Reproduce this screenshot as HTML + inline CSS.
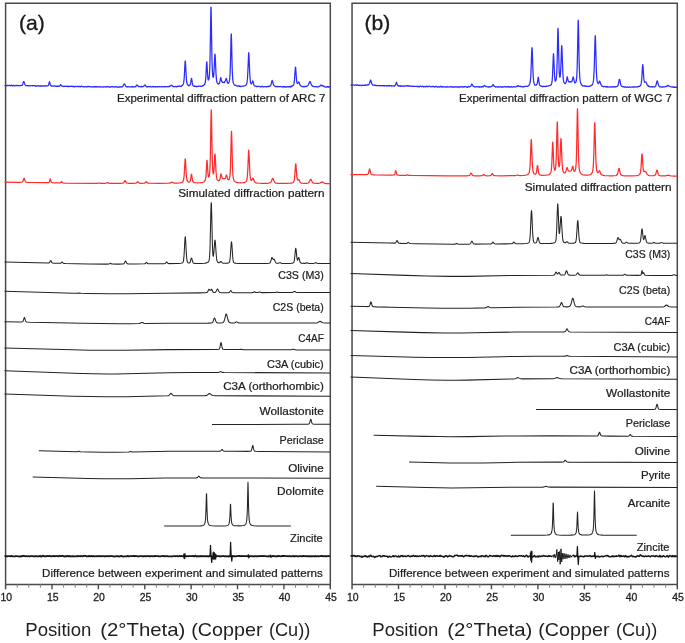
<!DOCTYPE html>
<html><head><meta charset="utf-8"><title>XRD patterns</title>
<style>html,body{margin:0;padding:0;background:#fff;overflow:hidden;}svg{display:block;will-change:transform;}text{font-family:"Liberation Sans",sans-serif;}</style></head>
<body>
<svg width="685" height="643" viewBox="0 0 685 643">
<rect width="685" height="643" fill="#fff"/>
<g font-family="Liberation Sans, sans-serif">
<path d="M5.6,589.1999999999999 L5.6,3.2 L330.3,3.2 L330.3,589.1999999999999" fill="none" stroke="#4a4a4a" stroke-width="1.5"/><path d="M5.6,584.4 L330.3,584.4" fill="none" stroke="#4a4a4a" stroke-width="1.5"/><path d="M17.20,584.4 L17.20,587.6999999999999" stroke="#808080" stroke-width="1.0"/><path d="M28.79,584.4 L28.79,587.6999999999999" stroke="#808080" stroke-width="1.0"/><path d="M40.39,584.4 L40.39,587.6999999999999" stroke="#808080" stroke-width="1.0"/><path d="M51.99,584.4 L51.99,589.1999999999999" stroke="#4a4a4a" stroke-width="1.4"/><path d="M63.58,584.4 L63.58,587.6999999999999" stroke="#808080" stroke-width="1.0"/><path d="M75.18,584.4 L75.18,587.6999999999999" stroke="#808080" stroke-width="1.0"/><path d="M86.77,584.4 L86.77,587.6999999999999" stroke="#808080" stroke-width="1.0"/><path d="M98.37,584.4 L98.37,589.1999999999999" stroke="#4a4a4a" stroke-width="1.4"/><path d="M109.97,584.4 L109.97,587.6999999999999" stroke="#808080" stroke-width="1.0"/><path d="M121.56,584.4 L121.56,587.6999999999999" stroke="#808080" stroke-width="1.0"/><path d="M133.16,584.4 L133.16,587.6999999999999" stroke="#808080" stroke-width="1.0"/><path d="M144.76,584.4 L144.76,589.1999999999999" stroke="#4a4a4a" stroke-width="1.4"/><path d="M156.35,584.4 L156.35,587.6999999999999" stroke="#808080" stroke-width="1.0"/><path d="M167.95,584.4 L167.95,587.6999999999999" stroke="#808080" stroke-width="1.0"/><path d="M179.55,584.4 L179.55,587.6999999999999" stroke="#808080" stroke-width="1.0"/><path d="M191.14,584.4 L191.14,589.1999999999999" stroke="#4a4a4a" stroke-width="1.4"/><path d="M202.74,584.4 L202.74,587.6999999999999" stroke="#808080" stroke-width="1.0"/><path d="M214.34,584.4 L214.34,587.6999999999999" stroke="#808080" stroke-width="1.0"/><path d="M225.93,584.4 L225.93,587.6999999999999" stroke="#808080" stroke-width="1.0"/><path d="M237.53,584.4 L237.53,589.1999999999999" stroke="#4a4a4a" stroke-width="1.4"/><path d="M249.12,584.4 L249.12,587.6999999999999" stroke="#808080" stroke-width="1.0"/><path d="M260.72,584.4 L260.72,587.6999999999999" stroke="#808080" stroke-width="1.0"/><path d="M272.32,584.4 L272.32,587.6999999999999" stroke="#808080" stroke-width="1.0"/><path d="M283.91,584.4 L283.91,589.1999999999999" stroke="#4a4a4a" stroke-width="1.4"/><path d="M295.51,584.4 L295.51,587.6999999999999" stroke="#808080" stroke-width="1.0"/><path d="M307.11,584.4 L307.11,587.6999999999999" stroke="#808080" stroke-width="1.0"/><path d="M318.70,584.4 L318.70,587.6999999999999" stroke="#808080" stroke-width="1.0"/><text x="6.30" y="601.2" font-size="10.7" text-anchor="middle" textLength="11.6" lengthAdjust="spacingAndGlyphs" fill="#222" stroke="#222" stroke-width="0.3">10</text><text x="52.69" y="601.2" font-size="10.7" text-anchor="middle" textLength="11.6" lengthAdjust="spacingAndGlyphs" fill="#222" stroke="#222" stroke-width="0.3">15</text><text x="99.07" y="601.2" font-size="10.7" text-anchor="middle" textLength="11.6" lengthAdjust="spacingAndGlyphs" fill="#222" stroke="#222" stroke-width="0.3">20</text><text x="145.46" y="601.2" font-size="10.7" text-anchor="middle" textLength="11.6" lengthAdjust="spacingAndGlyphs" fill="#222" stroke="#222" stroke-width="0.3">25</text><text x="191.84" y="601.2" font-size="10.7" text-anchor="middle" textLength="11.6" lengthAdjust="spacingAndGlyphs" fill="#222" stroke="#222" stroke-width="0.3">30</text><text x="238.23" y="601.2" font-size="10.7" text-anchor="middle" textLength="11.6" lengthAdjust="spacingAndGlyphs" fill="#222" stroke="#222" stroke-width="0.3">35</text><text x="284.61" y="601.2" font-size="10.7" text-anchor="middle" textLength="11.6" lengthAdjust="spacingAndGlyphs" fill="#222" stroke="#222" stroke-width="0.3">40</text><text x="331.00" y="601.2" font-size="10.7" text-anchor="middle" textLength="11.6" lengthAdjust="spacingAndGlyphs" fill="#222" stroke="#222" stroke-width="0.3">45</text>
<path d="M352.05,589.1999999999999 L352.05,3.2 L677.3,3.2 L677.3,589.1999999999999" fill="none" stroke="#4a4a4a" stroke-width="1.5"/><path d="M352.05,584.4 L677.3,584.4" fill="none" stroke="#4a4a4a" stroke-width="1.5"/><path d="M363.67,584.4 L363.67,587.6999999999999" stroke="#808080" stroke-width="1.0"/><path d="M375.28,584.4 L375.28,587.6999999999999" stroke="#808080" stroke-width="1.0"/><path d="M386.90,584.4 L386.90,587.6999999999999" stroke="#808080" stroke-width="1.0"/><path d="M398.51,584.4 L398.51,589.1999999999999" stroke="#4a4a4a" stroke-width="1.4"/><path d="M410.13,584.4 L410.13,587.6999999999999" stroke="#808080" stroke-width="1.0"/><path d="M421.75,584.4 L421.75,587.6999999999999" stroke="#808080" stroke-width="1.0"/><path d="M433.36,584.4 L433.36,587.6999999999999" stroke="#808080" stroke-width="1.0"/><path d="M444.98,584.4 L444.98,589.1999999999999" stroke="#4a4a4a" stroke-width="1.4"/><path d="M456.59,584.4 L456.59,587.6999999999999" stroke="#808080" stroke-width="1.0"/><path d="M468.21,584.4 L468.21,587.6999999999999" stroke="#808080" stroke-width="1.0"/><path d="M479.83,584.4 L479.83,587.6999999999999" stroke="#808080" stroke-width="1.0"/><path d="M491.44,584.4 L491.44,589.1999999999999" stroke="#4a4a4a" stroke-width="1.4"/><path d="M503.06,584.4 L503.06,587.6999999999999" stroke="#808080" stroke-width="1.0"/><path d="M514.67,584.4 L514.67,587.6999999999999" stroke="#808080" stroke-width="1.0"/><path d="M526.29,584.4 L526.29,587.6999999999999" stroke="#808080" stroke-width="1.0"/><path d="M537.91,584.4 L537.91,589.1999999999999" stroke="#4a4a4a" stroke-width="1.4"/><path d="M549.52,584.4 L549.52,587.6999999999999" stroke="#808080" stroke-width="1.0"/><path d="M561.14,584.4 L561.14,587.6999999999999" stroke="#808080" stroke-width="1.0"/><path d="M572.76,584.4 L572.76,587.6999999999999" stroke="#808080" stroke-width="1.0"/><path d="M584.37,584.4 L584.37,589.1999999999999" stroke="#4a4a4a" stroke-width="1.4"/><path d="M595.99,584.4 L595.99,587.6999999999999" stroke="#808080" stroke-width="1.0"/><path d="M607.60,584.4 L607.60,587.6999999999999" stroke="#808080" stroke-width="1.0"/><path d="M619.22,584.4 L619.22,587.6999999999999" stroke="#808080" stroke-width="1.0"/><path d="M630.84,584.4 L630.84,589.1999999999999" stroke="#4a4a4a" stroke-width="1.4"/><path d="M642.45,584.4 L642.45,587.6999999999999" stroke="#808080" stroke-width="1.0"/><path d="M654.07,584.4 L654.07,587.6999999999999" stroke="#808080" stroke-width="1.0"/><path d="M665.68,584.4 L665.68,587.6999999999999" stroke="#808080" stroke-width="1.0"/><text x="352.75" y="601.2" font-size="10.7" text-anchor="middle" textLength="11.6" lengthAdjust="spacingAndGlyphs" fill="#222" stroke="#222" stroke-width="0.3">10</text><text x="399.21" y="601.2" font-size="10.7" text-anchor="middle" textLength="11.6" lengthAdjust="spacingAndGlyphs" fill="#222" stroke="#222" stroke-width="0.3">15</text><text x="445.68" y="601.2" font-size="10.7" text-anchor="middle" textLength="11.6" lengthAdjust="spacingAndGlyphs" fill="#222" stroke="#222" stroke-width="0.3">20</text><text x="492.14" y="601.2" font-size="10.7" text-anchor="middle" textLength="11.6" lengthAdjust="spacingAndGlyphs" fill="#222" stroke="#222" stroke-width="0.3">25</text><text x="538.61" y="601.2" font-size="10.7" text-anchor="middle" textLength="11.6" lengthAdjust="spacingAndGlyphs" fill="#222" stroke="#222" stroke-width="0.3">30</text><text x="585.07" y="601.2" font-size="10.7" text-anchor="middle" textLength="11.6" lengthAdjust="spacingAndGlyphs" fill="#222" stroke="#222" stroke-width="0.3">35</text><text x="631.54" y="601.2" font-size="10.7" text-anchor="middle" textLength="11.6" lengthAdjust="spacingAndGlyphs" fill="#222" stroke="#222" stroke-width="0.3">40</text><text x="678.00" y="601.2" font-size="10.7" text-anchor="middle" textLength="11.6" lengthAdjust="spacingAndGlyphs" fill="#222" stroke="#222" stroke-width="0.3">45</text>
<path d="M4.50,85.61 5.70,85.34 6.30,85.61 6.50,85.50 7.10,85.52 7.30,85.34 7.70,85.46 7.90,85.62 8.10,85.43 8.30,85.58 8.50,85.57 8.90,85.71 9.30,85.60 9.70,85.17 9.90,85.40 10.10,85.40 10.30,85.55 10.50,85.56 10.70,85.44 10.90,85.56 11.10,85.27 11.30,85.37 11.50,85.21 11.90,85.77 12.10,85.85 12.30,85.80 12.50,85.62 12.70,85.70 13.30,85.19 13.50,85.30 13.70,85.67 13.90,85.87 14.30,85.76 14.70,85.81 14.90,85.66 15.30,85.59 15.50,85.44 15.90,85.52 16.10,85.76 16.70,85.39 17.10,85.73 17.30,85.66 17.50,85.39 17.70,85.32 18.10,85.38 18.30,85.61 18.90,85.72 19.10,85.88 19.90,85.65 20.10,85.45 20.30,85.43 20.70,85.70 21.30,85.27 21.50,85.28 21.90,85.46 22.10,85.41 22.50,84.76 22.90,83.70 23.30,82.18 23.50,81.75 23.70,81.55 23.90,81.65 24.10,81.92 24.70,83.94 24.90,84.37 25.10,84.73 25.30,84.89 25.50,85.33 25.70,85.41 25.90,85.71 26.50,85.51 26.90,85.78 27.50,85.57 27.70,85.66 27.90,85.59 28.10,85.76 28.50,85.77 28.70,85.67 29.90,85.94 30.10,85.93 30.70,85.65 30.90,85.73 31.30,85.55 32.10,85.55 32.30,85.61 32.50,85.84 32.90,85.73 33.10,85.57 33.90,85.72 34.10,85.61 34.30,85.69 34.50,85.55 34.90,85.75 35.30,86.20 35.50,85.99 35.90,85.92 36.10,86.16 36.50,85.93 36.70,86.02 37.30,85.91 37.70,86.00 37.90,85.80 38.10,85.79 38.30,85.66 38.90,86.02 39.10,85.92 39.50,85.92 39.70,86.06 40.30,85.83 40.50,86.00 40.70,85.96 40.90,86.12 41.10,86.10 41.50,85.66 41.70,85.72 42.10,86.11 42.70,86.02 43.10,85.80 43.30,85.89 43.50,85.79 43.70,86.04 43.90,85.94 44.10,86.13 44.30,85.92 44.50,85.92 44.70,85.77 44.90,85.80 45.10,85.67 45.70,86.14 46.10,85.97 46.30,85.78 47.10,85.95 47.70,85.67 48.10,85.63 48.50,85.34 48.90,84.03 49.30,82.02 49.50,81.72 49.70,82.14 50.30,84.69 50.70,85.47 51.10,85.88 51.50,86.13 52.10,85.92 52.30,85.96 52.50,85.85 52.90,85.99 53.10,86.25 53.30,86.03 53.50,86.16 53.70,86.04 53.90,86.15 54.10,85.91 54.50,85.95 55.30,86.27 55.90,86.01 56.50,86.41 56.70,86.19 56.90,86.11 57.30,86.35 57.90,86.10 58.10,86.21 58.30,86.18 58.50,86.35 59.10,86.17 59.50,86.15 59.70,85.98 59.90,85.56 60.10,85.51 60.50,85.00 60.70,84.59 60.90,84.69 61.30,85.62 61.50,85.91 61.90,85.89 62.50,86.34 62.70,86.39 62.90,86.27 63.30,86.24 63.50,86.51 63.90,86.62 64.10,86.40 64.30,86.44 64.70,86.19 64.90,86.19 65.30,86.43 65.70,86.46 66.30,86.04 66.50,86.05 66.70,86.32 66.90,86.42 67.10,86.45 67.30,86.27 67.50,86.52 67.70,86.54 67.90,86.53 68.10,86.30 68.50,86.52 68.90,86.24 69.30,86.37 69.70,86.38 70.10,86.60 70.90,86.29 71.30,86.23 71.50,86.40 71.70,86.24 71.90,86.37 72.10,86.32 72.30,86.63 72.70,86.43 72.90,86.20 73.10,86.20 73.50,86.39 73.90,86.78 74.10,86.68 74.30,86.85 74.70,86.94 74.90,86.48 75.10,86.30 75.90,86.32 76.10,86.47 76.70,86.67 77.30,86.46 77.50,86.45 77.90,86.59 78.10,86.38 78.30,86.39 78.50,86.30 79.10,86.79 79.30,86.67 79.50,86.37 80.10,86.78 80.70,86.69 81.10,86.24 81.30,86.13 81.50,86.22 81.90,86.67 82.50,86.74 82.90,86.64 83.10,86.42 83.30,86.60 83.50,86.63 83.70,86.83 84.10,86.98 84.50,86.87 84.70,86.64 84.90,86.69 85.30,86.62 85.50,86.70 85.70,86.63 85.90,86.85 86.10,86.68 86.50,86.91 86.70,86.87 87.10,86.51 87.50,86.78 87.90,86.71 88.10,86.49 88.30,86.48 88.50,86.31 88.70,86.60 89.10,86.62 89.50,86.50 90.10,86.68 90.30,86.62 90.90,86.92 91.70,86.81 91.90,86.92 92.30,86.76 92.50,86.81 92.70,87.05 93.10,87.00 93.30,86.76 93.50,86.91 93.70,86.91 93.90,87.04 94.10,86.71 94.50,86.43 94.70,86.68 95.30,86.78 95.50,87.03 96.10,86.59 96.30,86.86 96.50,86.85 96.90,86.61 97.50,87.04 97.90,86.81 98.10,86.78 98.30,86.91 98.50,86.91 98.90,86.85 99.10,86.73 99.50,86.96 99.70,86.96 99.90,86.92 100.10,86.72 100.30,86.93 100.70,87.05 100.90,87.05 101.50,86.74 102.10,86.87 102.30,86.83 102.70,87.01 102.90,87.02 103.10,86.82 103.30,86.79 103.70,87.07 104.10,86.80 104.30,86.96 104.70,86.92 104.90,86.75 105.30,86.85 105.50,86.76 106.10,87.08 106.30,86.97 106.50,86.69 106.90,86.46 107.10,86.78 107.50,86.95 107.70,86.68 107.90,86.60 108.30,86.67 108.50,86.93 108.90,86.94 109.10,86.81 109.50,87.21 110.10,86.92 110.50,87.01 110.90,86.74 111.30,86.71 111.50,86.96 111.90,86.96 112.30,86.75 112.70,86.95 113.30,86.65 113.70,86.95 114.30,87.02 114.50,86.90 114.70,86.92 114.90,86.77 115.10,86.74 115.50,86.92 115.90,86.68 116.10,86.66 116.30,86.94 116.50,86.98 116.70,86.93 116.90,86.70 117.10,86.99 117.30,87.05 117.50,87.26 117.70,87.09 118.10,87.10 118.70,86.93 118.90,87.08 119.50,86.81 119.70,86.99 119.90,87.05 120.50,86.70 120.70,86.93 121.10,87.16 121.50,86.83 121.70,86.79 122.10,86.92 122.90,86.20 123.70,84.56 123.90,84.39 124.10,84.01 124.50,83.82 124.90,84.35 125.50,85.96 125.70,86.29 126.10,86.72 126.30,86.70 126.50,86.90 126.70,86.77 126.90,86.87 127.10,86.71 127.30,86.81 127.50,86.69 128.70,86.96 128.90,86.84 129.70,86.87 129.90,86.69 130.10,86.89 130.30,86.84 130.50,86.95 131.10,87.00 131.30,86.79 131.50,86.75 131.70,86.56 132.50,87.04 133.10,86.60 133.50,86.86 133.70,86.89 135.50,86.77 135.70,86.45 135.90,86.46 136.50,85.08 137.10,85.18 137.30,85.10 137.90,86.03 138.30,86.11 138.90,86.70 139.10,86.70 139.30,86.53 139.70,86.48 139.90,86.66 140.30,86.74 140.50,86.64 141.10,86.83 141.30,86.45 141.50,86.41 141.70,86.52 141.90,86.90 142.50,86.54 142.70,86.66 143.10,86.57 143.30,86.35 143.50,86.40 143.70,86.15 143.90,86.10 144.70,85.16 144.90,84.83 145.30,85.01 146.10,86.45 146.70,86.53 147.10,87.02 147.30,87.02 147.70,86.63 147.90,86.53 148.10,86.73 148.50,86.67 148.70,86.36 149.10,86.68 149.30,86.74 149.50,86.70 149.90,86.85 150.10,86.78 150.50,86.35 150.70,86.54 150.90,86.59 151.10,86.88 151.50,86.90 151.70,86.75 151.90,86.74 152.30,86.89 152.50,86.67 152.70,86.74 153.30,86.43 153.50,86.55 153.70,86.96 153.90,86.98 154.10,86.81 154.70,86.96 154.90,86.66 155.10,86.56 155.30,86.72 155.70,86.83 155.90,86.65 156.10,86.82 156.30,86.81 156.50,86.92 156.70,86.80 156.90,86.87 157.10,86.73 157.70,86.97 158.10,86.55 158.70,86.74 159.10,86.61 159.70,86.84 159.90,86.79 160.30,86.86 160.50,86.76 161.10,86.74 161.30,86.49 161.70,86.50 162.50,86.87 162.90,86.82 163.30,86.61 163.70,86.74 164.50,86.76 164.70,86.54 165.10,86.63 165.30,86.78 165.90,86.56 166.30,86.68 166.70,86.62 167.30,86.65 167.70,86.73 167.90,86.87 168.30,86.68 168.50,86.48 168.70,86.55 168.90,86.35 169.10,86.40 169.30,86.27 169.50,86.50 169.70,86.49 169.90,86.35 170.30,85.86 170.70,85.78 171.30,85.25 171.70,85.32 172.10,85.69 172.30,86.02 172.50,86.14 172.90,86.19 173.30,86.47 173.50,86.77 173.90,86.59 174.30,86.74 175.10,86.70 175.50,86.42 175.90,86.40 176.10,86.66 176.50,86.90 176.90,86.61 177.10,86.56 177.30,86.68 177.70,86.36 177.90,86.06 178.50,86.46 178.70,86.32 179.10,86.21 179.50,86.21 179.70,86.40 179.90,86.44 180.10,86.38 180.30,86.16 180.90,86.32 181.10,86.22 181.30,86.26 181.70,85.83 181.90,85.42 182.10,85.47 182.50,85.30 183.10,84.54 183.50,83.48 183.70,82.42 184.10,79.03 184.30,76.35 185.10,61.54 185.30,60.97 185.50,63.03 186.10,74.42 186.50,80.29 186.90,83.04 187.30,84.24 188.70,85.85 188.90,85.79 189.30,85.35 189.90,85.14 190.10,84.95 190.50,83.77 191.30,78.95 191.50,78.42 191.70,78.72 192.30,82.90 192.70,84.92 193.10,85.75 193.30,85.94 193.70,86.03 193.90,85.87 194.10,85.88 194.50,86.26 194.90,86.21 195.90,86.57 196.10,86.38 196.50,86.34 197.10,86.61 197.50,86.50 197.70,86.29 198.30,86.39 198.90,86.08 199.30,86.20 199.70,86.17 200.30,86.46 200.90,86.02 201.10,86.06 201.30,86.28 201.70,86.48 201.90,86.34 202.50,85.58 202.90,85.89 203.10,85.79 204.70,84.28 205.10,83.32 205.30,82.45 205.70,78.87 205.90,75.97 206.50,64.02 206.70,61.82 206.90,62.40 207.50,73.36 207.90,78.15 208.10,79.32 208.30,80.00 208.50,79.87 208.70,79.59 209.10,78.23 209.30,76.70 209.70,70.30 210.10,55.90 210.90,7.23 211.10,7.25 211.90,55.36 212.10,63.68 212.30,69.54 212.70,75.42 212.90,76.77 213.10,77.36 213.30,77.33 213.50,76.71 213.70,75.41 214.10,69.98 214.70,56.82 214.90,54.14 215.10,54.31 215.30,57.46 215.90,71.57 216.10,75.09 216.50,79.82 216.70,81.25 217.10,82.55 217.50,83.45 217.70,83.48 217.90,83.71 218.10,83.69 218.30,84.12 218.70,83.91 218.90,83.71 219.10,83.72 219.30,83.58 219.70,82.44 220.10,80.71 220.50,78.33 220.70,77.65 220.90,77.76 221.50,80.54 221.70,81.13 222.30,82.34 222.50,82.43 222.90,82.39 223.30,82.58 223.70,82.30 223.90,82.28 224.30,82.61 224.70,81.94 224.90,81.31 225.10,81.28 225.50,80.51 226.10,78.43 226.30,78.48 226.50,78.92 227.10,81.56 227.50,82.64 227.90,83.30 228.30,83.37 228.50,83.15 229.10,82.03 229.30,81.43 229.70,78.99 230.10,73.27 230.50,61.34 231.10,35.55 231.30,33.94 231.50,38.96 232.10,65.10 232.30,71.24 232.70,78.70 233.10,81.83 233.50,83.48 234.30,84.67 234.90,85.18 235.10,85.45 235.50,85.35 235.70,85.16 235.90,85.36 236.10,85.39 236.70,85.96 236.90,85.88 237.50,86.13 237.70,86.07 237.90,86.14 238.10,86.00 238.30,86.20 238.50,85.87 238.70,85.97 238.90,85.76 239.10,86.13 239.30,86.06 239.50,86.35 239.70,86.14 239.90,86.47 240.10,86.35 240.30,86.50 240.50,86.35 240.90,86.60 241.10,86.35 241.30,86.25 241.90,86.19 242.10,86.04 242.30,86.20 242.50,86.13 242.90,86.19 243.10,86.05 243.30,86.10 243.50,85.96 244.10,86.14 244.70,85.60 245.30,85.52 245.50,85.39 246.10,84.86 246.50,84.13 246.90,82.96 247.10,82.01 247.50,78.03 247.90,70.53 248.50,55.41 248.70,52.74 248.90,53.47 249.10,57.40 249.50,68.32 249.90,76.53 250.30,81.07 250.50,82.19 250.70,83.02 250.90,83.40 251.30,83.92 251.50,83.92 252.30,82.03 252.50,81.27 252.70,80.90 252.90,81.00 253.10,81.59 253.70,84.19 254.10,85.25 254.30,85.69 254.50,85.93 254.90,85.99 255.10,86.20 255.30,86.13 255.50,86.22 255.70,86.17 255.90,86.30 256.10,86.22 256.50,86.60 256.70,86.68 256.90,86.68 257.10,86.46 257.50,86.55 257.90,86.43 259.30,86.42 259.50,86.67 259.70,86.60 259.90,86.70 260.10,86.65 260.30,86.89 260.70,86.91 260.90,86.85 261.10,86.58 261.50,86.29 261.90,86.64 262.30,86.58 262.50,86.37 262.70,86.39 263.10,86.69 263.30,86.99 263.70,86.87 263.90,86.55 264.50,86.74 264.70,86.62 265.10,86.71 265.50,86.61 265.90,86.78 266.50,86.66 266.90,86.84 267.30,86.71 267.50,86.49 267.70,86.64 267.90,86.50 268.10,86.61 268.30,86.37 268.50,86.51 268.70,86.54 269.10,86.35 269.30,86.07 269.50,86.30 269.90,86.13 270.10,85.80 270.50,85.83 270.70,85.69 271.30,83.68 271.90,80.99 272.10,80.41 272.30,80.43 272.50,80.93 273.30,84.28 273.50,84.85 274.10,85.76 274.50,86.06 274.70,86.04 274.90,86.18 275.30,86.63 276.10,86.37 276.70,86.68 277.10,86.42 277.50,86.61 277.70,86.80 277.90,86.75 278.10,86.82 278.30,86.67 278.70,86.58 278.90,86.67 279.50,86.68 280.70,86.51 281.10,86.66 281.30,86.50 281.70,86.73 281.90,86.98 282.70,86.59 282.90,86.91 283.10,86.85 283.30,87.00 283.50,86.65 283.90,86.48 284.30,86.85 284.50,86.92 284.70,86.68 284.90,86.73 285.10,86.62 285.30,86.94 285.70,87.17 285.90,87.11 286.10,86.81 286.30,86.97 286.50,86.89 286.70,87.10 286.90,86.78 287.10,86.74 287.30,86.53 287.70,86.59 288.10,86.86 288.30,86.90 288.50,86.88 288.70,86.75 288.90,86.88 289.10,86.79 289.30,86.89 289.50,86.50 289.90,86.37 290.50,87.03 290.70,86.88 291.10,86.18 291.50,86.60 291.70,86.59 292.30,85.61 292.50,85.50 292.70,85.50 292.90,85.67 293.10,85.51 293.70,84.65 293.90,83.93 294.30,81.46 294.50,79.55 295.30,67.99 295.50,67.08 295.70,68.17 296.50,79.55 296.70,81.23 297.10,83.19 297.30,83.50 297.50,83.58 297.70,83.20 298.30,82.57 298.70,81.90 298.90,81.99 300.10,85.31 300.90,85.82 301.10,86.05 301.30,86.08 301.50,86.36 301.70,86.36 302.10,86.58 302.50,86.53 302.70,86.43 303.10,86.66 303.50,86.55 303.70,86.61 303.90,86.90 304.30,86.79 304.70,86.42 304.90,86.40 305.30,86.56 305.70,86.28 305.90,86.48 306.10,86.46 306.30,86.60 306.50,86.36 306.70,86.39 307.10,86.02 307.70,85.81 308.30,85.07 309.70,81.79 310.10,81.63 310.30,81.67 310.50,82.12 310.90,83.43 311.70,85.37 312.50,85.87 313.10,86.53 313.30,86.64 313.70,86.47 314.10,86.72 314.50,86.70 314.70,86.54 315.10,86.72 315.30,86.53 315.50,86.54 315.70,86.41 316.30,86.52 316.50,86.77 316.70,86.62 316.90,86.82 317.10,86.79 317.30,86.88 317.50,86.81 317.90,86.94 318.10,86.89 318.30,86.61 318.50,86.65 318.70,86.46 318.90,86.63 320.10,86.03 320.70,85.14 320.90,85.20 321.10,85.56 321.30,85.63 321.50,85.56 321.70,85.23 322.10,85.55 322.30,85.58 322.70,85.79 322.90,86.11 323.10,85.96 323.30,85.93 323.70,86.13 323.90,86.39 324.10,86.44 324.30,86.67 324.90,86.81 325.30,86.77 325.50,87.02 325.90,87.25 326.30,86.86 326.70,86.79 326.90,86.95 327.50,86.52 327.70,86.68 327.90,87.13 328.10,87.29 328.70,86.71 328.90,86.78 329.30,86.66 329.90,86.97 330.30,86.95" fill="none" stroke="#2c2cff" stroke-width="1.25" stroke-linejoin="round" stroke-linecap="butt"/>
<path d="M4.50,182.19 18.10,182.33 20.50,182.28 21.70,182.14 22.10,182.02 22.50,181.78 22.90,181.25 23.30,180.27 23.90,178.33 24.10,178.10 24.30,178.33 24.90,180.29 25.30,181.29 25.50,181.60 25.90,181.98 26.30,182.16 27.10,182.32 30.10,182.50 44.50,182.73 47.10,182.71 48.30,182.59 48.90,182.36 49.30,181.86 49.50,181.37 50.10,179.11 50.30,178.93 51.10,181.66 51.50,182.31 51.90,182.56 52.50,182.71 54.90,182.86 58.50,182.92 60.10,182.82 60.70,182.52 61.30,181.72 61.50,181.60 61.70,181.73 62.30,182.54 62.70,182.80 63.30,182.93 64.90,183.02 94.90,183.34 97.30,183.29 99.10,183.00 100.90,183.32 103.70,183.36 105.70,183.27 107.50,182.70 108.90,183.19 110.10,183.35 114.90,183.40 120.50,183.34 122.30,183.23 122.90,183.10 123.30,182.93 123.90,182.33 124.70,180.86 124.90,180.63 125.10,180.63 125.30,180.85 126.10,182.32 126.70,182.91 127.50,183.18 128.90,183.29 133.30,183.32 135.70,183.21 136.50,182.93 137.50,181.88 137.70,181.80 137.90,181.88 138.90,182.91 139.50,183.15 141.30,183.26 143.90,183.20 144.50,183.10 144.90,182.93 145.30,182.62 146.10,181.72 146.30,181.72 146.50,181.88 147.10,182.61 147.70,183.02 148.30,183.17 149.30,183.23 159.10,183.25 168.90,183.15 169.90,183.07 170.50,182.93 171.90,182.21 172.30,182.27 173.50,182.90 174.30,183.04 177.10,183.05 179.90,182.86 181.30,182.57 182.30,182.10 182.70,181.76 183.10,181.19 183.50,180.12 183.90,177.86 184.10,175.96 185.10,159.50 185.30,158.83 185.50,160.71 186.10,171.76 186.50,176.91 186.90,179.60 187.10,180.35 187.50,181.21 188.10,181.79 188.90,182.06 189.30,182.04 189.70,181.87 190.10,181.36 190.50,180.10 191.30,174.80 191.50,174.25 191.70,174.82 192.50,180.24 192.90,181.57 193.10,181.93 193.50,182.32 194.10,182.59 194.90,182.75 197.50,182.87 200.90,182.70 202.10,182.53 203.10,182.28 204.10,181.80 204.50,181.47 204.90,180.97 205.30,180.08 205.70,178.17 206.10,174.07 206.90,160.43 207.10,160.30 207.90,172.79 208.30,176.16 208.50,176.86 208.70,177.09 208.90,176.96 209.10,176.52 209.30,175.73 209.50,174.45 209.90,169.24 210.30,157.22 211.10,112.24 211.30,109.80 211.50,116.52 211.90,141.32 212.30,160.51 212.50,166.29 212.90,172.30 213.10,173.51 213.30,173.93 213.50,173.66 213.70,172.67 214.10,168.17 214.70,156.56 214.90,154.04 215.10,154.20 215.30,157.04 215.90,169.77 216.30,175.30 216.50,176.98 216.90,178.93 217.30,179.85 217.90,180.46 218.30,180.61 218.90,180.57 219.30,180.32 219.70,179.70 220.10,178.36 220.90,173.92 221.10,173.80 221.90,177.33 222.10,177.91 222.50,178.47 222.90,178.61 224.50,178.64 224.90,178.55 225.10,178.41 225.50,177.76 226.30,175.18 226.50,175.00 226.70,175.37 227.50,178.64 227.90,179.53 228.30,179.84 228.70,179.75 229.10,179.31 229.50,178.34 229.90,176.19 230.10,174.16 230.50,166.42 231.30,134.56 231.50,131.25 231.70,134.61 232.50,166.71 232.90,174.60 233.30,178.09 233.70,179.70 234.10,180.60 234.50,181.18 234.90,181.58 235.50,181.99 236.70,182.44 238.50,182.73 240.90,182.84 243.10,182.72 244.30,182.50 245.30,182.09 245.90,181.62 246.50,180.73 246.90,179.52 247.10,178.48 247.50,174.79 247.90,167.75 248.50,152.69 248.70,150.12 248.90,151.00 249.90,173.24 250.10,175.79 250.50,178.75 250.90,180.00 251.10,180.28 251.30,180.40 251.50,180.39 251.90,179.98 252.70,178.23 252.90,178.01 253.10,178.07 253.30,178.44 254.10,180.83 254.50,181.69 254.90,182.22 255.50,182.64 256.30,182.88 257.30,183.04 260.90,183.25 266.70,183.26 268.30,183.18 269.50,183.00 270.30,182.67 270.90,182.08 271.50,180.96 272.30,178.83 272.50,178.44 272.70,178.26 272.90,178.32 273.10,178.62 273.90,180.73 274.50,181.95 275.10,182.63 275.50,182.87 276.10,183.06 277.50,183.26 279.50,183.36 286.90,183.39 290.50,183.21 291.70,183.01 292.50,182.76 293.30,182.23 293.70,181.71 294.10,180.67 294.30,179.77 294.70,176.67 295.50,165.36 295.70,163.82 295.90,164.33 296.90,177.18 297.30,179.43 297.50,179.91 297.70,180.09 297.90,180.07 298.50,179.52 298.70,179.48 298.90,179.64 300.10,182.07 300.50,182.55 300.90,182.83 301.50,183.05 302.10,183.17 304.30,183.32 306.70,183.27 307.50,183.17 308.10,183.00 308.70,182.62 309.10,182.17 309.50,181.49 310.30,179.73 310.50,179.41 310.70,179.26 310.90,179.31 311.10,179.56 311.90,181.30 312.50,182.32 313.10,182.88 313.90,183.19 316.10,183.41 318.70,183.33 319.90,183.00 321.50,182.03 322.10,181.91 322.50,182.04 324.10,183.04 325.10,183.36 326.70,183.53 330.30,183.63" fill="none" stroke="#ff2c2c" stroke-width="1.25" stroke-linejoin="round" stroke-linecap="butt"/>
<path d="M4.50,261.90 48.10,262.99 48.90,262.91 49.30,262.73 49.50,262.55 50.50,260.78 50.70,260.61 50.90,260.67 51.10,260.95 51.70,262.17 52.10,262.72 52.70,263.04 53.90,263.16 60.10,263.29 60.50,263.21 60.90,263.00 61.90,262.11 62.10,262.12 62.30,262.24 63.10,263.06 63.50,263.29 64.10,263.41 65.50,263.48 87.70,263.95 107.10,264.12 108.50,264.10 109.10,264.01 109.50,263.84 110.30,263.34 110.50,263.30 110.90,263.44 111.70,263.94 112.30,264.08 118.10,264.12 122.50,264.04 123.30,263.96 123.70,263.84 124.30,263.32 125.30,261.35 125.50,261.13 125.70,261.13 126.10,261.71 126.70,262.98 127.10,263.54 127.70,263.89 128.70,264.00 135.90,263.99 144.30,263.85 144.90,263.75 145.30,263.55 146.10,262.66 146.50,262.40 146.90,262.65 147.70,263.52 148.10,263.72 148.70,263.81 164.10,263.66 164.90,263.55 165.30,263.35 166.50,261.92 166.70,261.92 166.90,262.08 167.50,262.93 167.90,263.33 168.30,263.53 168.70,263.60 176.30,263.58 178.90,263.49 180.70,263.33 181.90,263.08 182.30,262.93 182.70,262.66 183.10,262.06 183.50,260.56 183.90,257.18 184.10,254.49 184.90,239.68 185.10,237.33 185.30,236.81 185.50,238.30 185.70,241.34 186.30,252.85 186.70,258.22 187.10,261.01 187.30,261.73 187.70,262.46 188.10,262.76 188.90,262.96 189.50,262.86 189.90,262.49 190.30,261.66 191.10,258.73 191.30,258.20 191.50,258.00 191.70,258.21 191.90,258.77 192.50,261.12 192.90,262.28 193.30,262.92 193.90,263.26 194.70,263.37 196.30,263.44 201.50,263.40 204.70,263.21 206.70,262.87 207.90,262.34 208.30,262.02 208.70,261.51 209.10,260.42 209.50,257.64 209.90,250.77 210.10,244.95 210.90,209.91 211.10,203.99 211.30,202.65 211.50,206.35 211.70,213.84 212.30,240.71 212.50,247.19 212.90,254.63 213.10,256.03 213.30,256.25 213.50,255.53 213.90,251.88 214.70,241.37 214.90,240.13 215.10,240.22 215.30,241.64 215.50,244.07 216.30,255.59 216.70,259.21 216.90,260.35 217.30,261.68 217.70,262.28 218.10,262.56 218.70,262.74 219.30,262.70 219.70,262.50 220.50,261.75 220.90,261.51 221.30,261.64 222.50,262.88 223.10,263.16 223.70,263.25 225.90,263.27 227.70,263.12 228.70,262.85 229.10,262.57 229.30,262.31 229.70,261.24 230.10,258.74 230.50,254.11 231.10,244.77 231.30,242.57 231.50,241.75 231.70,242.57 231.90,244.78 232.70,256.72 233.10,260.24 233.30,261.26 233.70,262.34 233.90,262.60 234.30,262.89 235.10,263.14 236.30,263.30 237.90,263.40 244.30,263.50 263.50,263.50 267.10,263.44 268.90,263.32 269.70,263.10 270.10,262.76 270.30,262.47 270.90,260.91 271.70,257.98 271.90,257.58 272.10,257.50 272.30,257.71 273.10,259.35 273.30,259.50 273.50,259.50 274.10,259.26 274.30,259.39 274.50,259.70 275.30,261.71 275.70,262.49 276.10,262.95 276.70,263.24 277.50,263.33 278.30,263.30 278.90,263.12 279.90,262.61 280.30,262.67 281.50,263.31 282.50,263.44 289.50,263.41 291.50,263.30 292.70,263.11 293.30,262.87 293.70,262.44 294.10,261.39 294.30,260.44 294.70,257.39 295.30,250.88 295.50,249.15 295.70,248.29 295.90,248.56 296.10,249.86 296.90,257.84 297.30,259.89 297.50,260.18 297.70,260.06 298.50,257.75 298.70,257.50 298.90,257.66 299.10,258.19 299.70,260.67 300.10,261.98 300.50,262.72 300.90,263.05 301.30,263.19 302.10,263.31 304.90,263.39 305.70,263.25 306.70,262.76 307.10,262.71 308.30,263.27 308.90,263.41 313.30,263.45 314.30,263.31 315.70,262.60 316.10,262.70 317.10,263.28 318.10,263.46 330.30,263.49" fill="none" stroke="#242424" stroke-width="1.05" stroke-linejoin="round" stroke-linecap="butt"/>
<path d="M4.50,291.30 73.70,293.21 77.10,293.25 79.10,293.00 81.10,293.35 86.30,293.49 109.90,293.80 127.90,293.74 165.10,293.17 199.70,292.89 205.50,292.77 206.70,292.60 207.30,292.22 207.70,291.68 208.70,289.57 208.90,289.35 209.10,289.30 209.30,289.44 209.90,290.25 210.10,290.41 210.30,290.45 210.70,290.13 211.30,289.36 211.50,289.30 211.70,289.43 211.90,289.73 212.70,291.44 213.10,292.04 213.70,292.45 214.50,292.55 215.10,292.44 215.70,292.03 216.30,291.09 217.10,289.36 217.30,289.09 217.50,289.00 217.70,289.10 217.90,289.37 218.90,291.49 219.50,292.25 219.90,292.49 220.30,292.60 221.70,292.70 226.70,292.72 228.70,292.61 229.10,292.46 229.50,292.14 230.30,290.97 230.70,290.61 230.90,290.65 231.10,290.83 231.90,292.01 232.30,292.39 232.90,292.62 234.30,292.70 252.10,292.64 253.10,292.48 254.10,291.92 254.50,291.80 254.90,291.92 255.90,292.46 256.90,292.60 258.10,292.50 259.10,292.09 259.50,292.00 259.90,292.09 260.90,292.50 262.10,292.62 274.70,292.57 275.70,292.44 276.90,292.01 277.30,292.05 278.50,292.48 279.30,292.56 291.30,292.52 292.30,292.46 292.90,292.31 294.10,291.53 294.50,291.40 294.90,291.53 296.10,292.30 296.70,292.44 297.50,292.49 330.30,292.40" fill="none" stroke="#242424" stroke-width="1.05" stroke-linejoin="round" stroke-linecap="butt"/>
<path d="M4.50,321.70 19.30,321.94 21.30,321.93 22.30,321.83 22.70,321.65 23.10,321.14 23.50,320.08 24.10,317.87 24.30,317.45 24.50,317.46 24.70,317.88 25.50,320.73 25.70,321.20 26.10,321.72 26.50,321.92 27.10,322.02 30.10,322.17 82.30,323.26 101.50,323.54 118.70,323.69 130.70,323.69 138.90,323.58 140.10,323.37 141.50,322.55 142.10,322.41 142.50,322.54 143.90,323.33 144.70,323.49 145.70,323.53 169.10,323.31 208.10,323.11 211.30,322.96 211.90,322.83 212.30,322.60 212.90,321.81 213.30,320.85 214.10,318.50 214.30,318.13 214.50,318.00 214.70,318.13 214.90,318.49 215.70,320.83 216.10,321.78 216.70,322.56 217.10,322.78 217.70,322.90 220.50,322.94 221.90,322.84 222.70,322.66 223.30,322.31 223.70,321.84 224.10,321.05 224.50,319.88 225.70,315.01 226.10,314.08 226.30,314.01 226.50,314.22 226.70,314.70 227.90,319.53 228.30,320.80 228.70,321.67 229.10,322.21 229.50,322.53 230.10,322.75 230.90,322.87 232.90,322.96 234.10,322.91 234.90,322.68 236.10,321.99 236.50,321.90 236.90,322.00 237.90,322.60 238.50,322.86 239.30,323.00 240.70,323.05 314.90,322.98 316.50,322.91 317.50,322.70 318.30,322.28 319.50,321.40 320.10,321.26 320.70,321.52 322.10,322.52 323.10,322.85 324.70,322.96 330.30,322.99" fill="none" stroke="#242424" stroke-width="1.05" stroke-linejoin="round" stroke-linecap="butt"/>
<path d="M4.50,348.10 72.30,349.83 89.90,350.16 105.70,350.34 124.90,350.28 168.70,349.62 216.50,349.48 218.50,349.35 218.90,349.24 219.30,348.95 219.70,348.18 219.90,347.49 220.70,343.22 220.90,342.59 221.10,342.59 221.30,343.22 222.10,347.49 222.50,348.66 222.70,348.96 223.10,349.25 224.30,349.45 228.10,349.55 238.50,349.59 239.50,349.54 240.70,349.30 242.10,349.56 243.30,349.61 289.70,349.83 291.50,349.75 292.90,349.26 293.30,349.20 294.90,349.74 296.30,349.85 330.30,350.00" fill="none" stroke="#242424" stroke-width="1.05" stroke-linejoin="round" stroke-linecap="butt"/>
<path d="M4.50,370.70 73.90,373.28 91.90,373.76 108.10,373.99 116.70,373.99 126.30,373.85 157.70,372.97 169.30,372.73 189.70,372.57 217.70,372.49 219.10,372.35 220.30,371.73 220.70,371.60 221.10,371.68 221.90,372.15 222.50,372.38 224.30,372.51 330.30,373.00" fill="none" stroke="#242424" stroke-width="1.05" stroke-linejoin="round" stroke-linecap="butt"/>
<path d="M4.50,394.10 72.70,396.20 90.50,396.60 106.30,396.79 115.90,396.79 126.50,396.67 167.30,395.77 168.30,395.65 168.90,395.43 169.50,394.93 170.70,393.42 170.90,393.31 171.10,393.31 171.50,393.61 172.50,394.91 173.10,395.40 173.90,395.65 175.30,395.72 199.50,395.69 205.30,395.61 206.30,395.47 207.10,395.17 207.70,394.77 208.90,393.72 209.50,393.50 210.10,393.73 211.50,394.93 212.30,395.36 213.30,395.58 214.90,395.66 330.30,396.25" fill="none" stroke="#242424" stroke-width="1.05" stroke-linejoin="round" stroke-linecap="butt"/>
<path d="M212.00,424.50 298.20,424.31 307.60,424.21 308.80,424.02 309.20,423.72 309.40,423.41 309.80,422.34 310.40,419.93 310.60,419.39 310.80,419.27 311.00,419.62 311.60,421.97 312.00,423.20 312.40,423.82 313.00,424.10 314.20,424.21 316.40,424.25 330.20,424.25" fill="none" stroke="#242424" stroke-width="1.05" stroke-linejoin="round" stroke-linecap="butt"/>
<path d="M38.90,450.65 76.70,451.66 77.70,451.63 78.70,451.26 79.10,451.21 80.10,451.65 80.70,451.74 89.10,451.96 103.30,452.17 115.50,452.19 128.70,452.01 129.50,451.91 130.30,451.57 130.70,451.51 131.70,451.86 132.70,451.93 156.90,451.44 168.90,451.27 218.90,451.20 219.90,451.14 220.50,450.93 220.90,450.60 221.50,449.86 221.90,449.52 222.10,449.52 222.30,449.65 223.10,450.61 223.50,450.94 223.90,451.11 224.50,451.20 233.30,451.31 248.70,451.35 250.50,451.21 250.90,451.05 251.30,450.59 251.70,449.52 252.50,445.93 252.70,445.52 252.90,445.66 253.10,446.31 253.70,449.14 254.10,450.41 254.30,450.77 254.70,451.13 255.70,451.34 258.50,451.45 265.90,451.53 330.30,452.00" fill="none" stroke="#242424" stroke-width="1.05" stroke-linejoin="round" stroke-linecap="butt"/>
<path d="M32.70,477.00 87.90,478.52 103.70,478.77 117.30,478.80 130.50,478.65 164.70,478.06 196.10,477.87 196.90,477.80 197.50,477.52 198.50,476.23 198.70,476.11 198.90,476.15 199.10,476.34 199.70,477.21 200.30,477.70 200.90,477.83 202.10,477.88 330.30,478.25" fill="none" stroke="#242424" stroke-width="1.05" stroke-linejoin="round" stroke-linecap="butt"/>
<path d="M164.20,526.09 189.20,526.07 198.00,525.98 200.40,525.87 202.00,525.68 203.00,525.42 203.80,524.99 204.20,524.59 204.60,523.94 205.00,522.77 205.40,520.39 205.60,518.24 206.00,509.38 206.40,493.72 206.60,493.72 207.00,509.38 207.40,518.24 207.60,520.39 208.00,522.76 208.40,523.93 208.80,524.58 209.20,524.98 209.80,525.34 210.40,525.54 212.20,525.82 215.40,525.96 220.60,525.99 224.20,525.91 226.20,525.76 227.60,525.41 228.00,525.19 228.40,524.85 228.80,524.27 229.20,523.16 229.60,520.75 230.00,514.77 230.40,504.19 230.60,504.19 231.00,514.77 231.40,520.75 231.80,523.15 232.00,523.80 232.40,524.59 233.00,525.18 233.60,525.47 234.60,525.70 236.20,525.84 239.20,525.88 241.80,525.77 243.40,525.56 244.60,525.15 245.20,524.73 245.60,524.27 246.00,523.53 246.20,522.98 246.60,521.18 247.00,517.41 247.40,508.26 247.80,488.34 248.00,482.20 248.20,488.34 248.60,508.27 249.00,517.42 249.20,519.68 249.60,522.23 249.80,522.98 250.20,523.96 250.80,524.75 251.60,525.27 252.60,525.58 254.20,525.81 256.60,525.94 265.60,526.06 290.80,526.09" fill="none" stroke="#242424" stroke-width="1.05" stroke-linejoin="round" stroke-linecap="butt"/>
<path d="M350.50,85.30 350.70,85.27 351.10,84.99 351.30,85.10 351.50,84.94 351.70,85.03 351.90,84.97 352.10,85.22 352.50,85.32 352.70,85.19 353.50,85.01 353.70,84.84 353.90,84.86 354.10,85.07 354.30,85.08 354.50,85.30 354.90,85.27 355.10,85.04 355.30,85.05 355.90,84.68 356.30,85.19 356.50,85.29 356.70,85.21 356.90,84.97 357.10,84.94 357.30,84.79 357.50,85.10 357.70,85.13 357.90,85.30 358.70,85.33 359.10,85.09 359.30,85.10 359.70,85.54 360.30,85.27 360.50,85.33 360.70,85.21 360.90,85.27 361.50,85.71 361.70,85.44 362.10,85.14 362.70,85.44 362.90,85.33 363.10,85.49 363.30,85.48 363.90,85.23 364.10,85.45 364.30,85.33 364.50,85.39 364.70,85.34 365.10,84.90 365.30,84.85 365.70,85.40 365.90,85.40 366.50,85.09 366.70,85.19 366.90,85.09 367.10,85.18 367.50,84.95 367.70,84.66 367.90,84.98 368.10,84.94 368.30,85.00 368.50,84.58 369.10,84.23 369.50,83.52 370.30,80.70 370.70,79.99 371.10,81.18 371.30,82.29 371.90,83.67 372.10,84.33 372.70,84.99 372.90,85.16 373.10,85.19 373.90,85.22 374.10,85.09 374.30,85.25 374.50,85.17 374.70,85.37 374.90,85.13 375.10,85.29 375.30,85.22 375.50,85.36 375.90,85.29 376.10,85.34 376.50,85.74 376.70,85.73 376.90,85.50 377.10,85.46 377.70,85.66 377.90,85.62 378.10,85.72 378.30,85.59 378.70,85.54 379.10,85.73 379.50,85.50 379.90,85.39 380.50,85.81 380.70,85.64 381.10,85.67 381.30,85.93 382.10,85.58 382.30,85.68 382.50,85.59 382.70,85.63 383.30,85.88 383.90,85.46 384.10,85.57 384.50,86.06 385.10,85.62 385.30,85.72 385.90,85.75 386.10,85.67 386.50,85.88 386.70,86.11 386.90,86.02 387.30,85.63 387.50,85.60 387.70,85.81 387.90,85.76 388.10,85.86 388.30,85.62 388.70,85.69 388.90,85.98 389.30,85.97 389.50,85.61 389.90,85.45 390.50,85.92 390.70,85.81 390.90,85.82 391.10,85.65 391.30,86.00 391.50,85.98 391.70,86.10 391.90,85.90 392.50,85.80 392.90,85.90 393.10,86.04 393.30,85.95 393.50,85.99 393.70,85.83 393.90,86.18 394.10,86.02 394.30,86.03 394.50,85.74 394.70,85.89 394.90,85.79 395.70,84.35 396.50,82.23 396.70,82.54 397.10,84.34 397.30,84.91 397.90,85.75 398.30,86.07 398.70,86.21 399.10,85.68 399.30,85.69 399.50,85.92 399.70,85.83 399.90,86.12 400.30,86.42 400.70,85.75 400.90,85.88 401.10,86.20 401.30,86.30 401.50,86.24 401.70,85.92 401.90,85.90 402.30,86.18 402.90,86.12 403.10,85.98 403.30,86.00 403.50,85.88 403.70,86.14 403.90,86.02 404.10,86.22 404.30,86.01 404.50,86.14 404.70,86.07 404.90,86.20 405.50,85.86 405.90,85.91 406.30,85.72 406.50,85.86 406.70,85.86 407.10,86.12 407.50,85.92 407.70,85.61 407.90,85.58 408.10,85.61 408.50,86.05 409.10,85.80 409.50,86.22 409.70,86.21 409.90,86.37 410.10,86.20 410.90,86.23 411.10,86.05 411.30,86.05 411.70,86.31 411.90,86.29 412.10,86.11 412.30,86.31 412.70,86.40 412.90,86.20 413.10,86.19 413.50,86.29 413.70,86.47 414.10,86.54 414.70,86.30 415.30,86.40 415.90,86.25 416.30,86.24 417.10,86.69 417.30,86.67 417.70,86.25 417.90,86.29 418.30,86.68 418.50,86.52 418.90,86.49 419.10,86.86 419.50,86.69 419.70,86.30 420.10,86.10 420.30,86.15 420.70,86.11 421.10,86.34 421.30,86.57 421.90,86.68 422.50,86.18 423.10,86.41 423.50,86.84 423.70,86.90 424.10,86.52 424.30,86.48 424.50,86.56 424.70,86.51 424.90,86.57 425.10,86.49 425.70,86.96 425.90,86.84 426.30,86.24 427.30,86.28 427.70,86.75 427.90,86.82 428.10,86.79 428.30,86.44 428.50,86.49 428.70,86.39 428.90,86.44 429.10,86.24 429.30,86.47 429.50,86.42 429.70,86.49 429.90,86.34 430.30,86.69 430.50,86.70 430.70,86.58 431.10,86.65 431.30,86.59 431.50,86.68 431.70,86.63 431.90,86.87 432.10,86.57 432.50,86.34 432.70,86.42 432.90,86.64 433.10,86.54 433.30,86.63 433.50,86.43 433.70,86.65 434.10,86.71 434.30,86.88 434.50,86.86 434.70,87.02 434.90,86.67 435.30,86.57 435.50,86.72 435.70,86.70 435.90,86.61 436.10,86.29 436.50,86.27 437.10,87.02 437.30,87.10 437.50,87.12 437.70,86.96 438.10,86.94 438.70,86.73 439.30,87.19 439.50,86.88 439.90,86.71 440.10,86.90 440.70,86.25 440.90,86.35 441.30,87.01 441.70,86.73 441.90,86.68 442.10,86.82 442.70,86.58 443.30,87.04 443.50,86.87 443.70,86.94 443.90,86.83 444.10,86.96 444.90,86.92 445.50,87.12 445.70,87.11 445.90,86.99 446.10,87.11 446.30,87.06 446.50,87.14 446.70,86.82 447.10,86.50 447.30,86.58 447.50,86.85 448.30,87.16 449.10,86.79 449.30,86.92 449.50,86.82 449.70,86.90 450.10,86.70 450.30,86.78 450.50,86.72 450.70,86.96 451.10,86.74 451.50,86.78 451.70,87.04 451.90,87.07 452.10,86.89 452.50,86.93 452.70,87.18 453.50,86.86 453.70,87.22 454.10,87.07 454.30,86.75 454.70,86.98 454.90,86.77 455.10,86.77 455.50,87.06 456.10,86.79 456.50,86.86 456.70,87.03 456.90,86.94 457.10,87.07 457.30,87.03 457.50,86.82 457.90,86.75 458.10,87.05 458.30,86.99 458.50,87.18 459.10,86.67 459.50,86.92 460.10,87.03 460.30,87.18 460.90,86.72 461.10,86.67 461.30,86.85 461.50,86.86 461.90,86.62 462.50,86.74 462.90,87.09 463.10,87.07 463.30,86.88 463.70,87.16 463.90,87.15 464.30,86.62 464.50,86.59 464.70,86.71 464.90,86.72 465.10,86.62 465.90,86.52 466.30,86.99 466.70,87.19 466.90,87.25 467.10,87.11 467.70,87.35 468.30,86.60 468.50,86.63 468.70,86.33 469.50,86.98 469.90,86.77 470.10,86.48 470.30,86.40 470.90,85.90 471.10,85.56 471.50,84.36 471.70,84.12 472.10,84.28 472.50,85.06 472.70,85.20 473.10,85.91 473.30,86.46 473.50,86.44 473.90,86.62 474.50,86.68 474.70,87.00 474.90,87.02 475.10,87.01 475.30,86.88 475.90,86.99 476.70,86.56 477.10,86.71 477.70,86.69 478.10,86.92 478.30,86.73 478.70,86.65 479.10,87.08 479.50,86.82 479.70,86.87 479.90,87.11 480.30,86.83 480.50,86.97 480.90,87.04 481.10,86.74 481.50,86.62 481.90,87.02 482.10,86.96 482.70,86.41 482.90,86.46 483.30,86.88 484.50,85.35 484.70,85.48 484.90,85.87 485.10,86.05 485.50,86.23 485.70,86.48 485.90,86.52 486.30,86.36 486.90,86.88 487.10,86.94 487.30,86.93 487.50,86.76 488.10,87.05 488.30,86.88 488.70,87.07 488.90,87.05 489.10,86.67 489.30,86.54 489.70,86.85 489.90,86.85 490.10,86.67 490.50,86.92 491.10,86.48 491.30,86.48 491.50,86.29 492.10,86.05 492.30,85.78 492.90,84.54 493.10,84.56 493.30,84.78 493.90,85.86 494.30,86.40 494.50,86.17 494.70,86.25 495.10,86.86 495.30,87.01 495.70,86.92 495.90,86.66 496.50,86.87 496.90,86.77 497.30,87.02 497.50,86.90 497.70,87.03 497.90,86.76 498.10,86.80 498.30,86.59 498.90,86.85 499.10,86.86 499.30,87.14 499.50,87.13 499.70,87.10 499.90,86.92 500.30,86.95 500.70,86.66 500.90,86.69 501.30,87.02 501.90,86.87 502.30,86.99 502.70,87.25 503.10,86.98 503.30,86.75 503.50,86.87 503.90,86.78 504.10,86.64 504.30,86.70 504.70,86.52 504.90,86.59 505.30,86.96 505.50,86.70 505.90,86.95 506.10,87.18 506.30,86.91 506.50,86.87 506.90,86.99 507.30,86.74 507.50,86.83 507.90,86.85 508.30,86.50 508.50,86.62 508.90,87.17 509.10,87.22 509.30,87.01 509.70,86.81 509.90,86.85 510.10,87.02 510.30,86.84 510.50,86.80 510.70,86.60 511.10,86.80 511.30,86.63 511.50,86.81 511.70,86.82 511.90,87.05 512.10,87.07 512.30,87.21 512.70,87.13 512.90,86.93 513.10,86.96 513.50,86.72 513.90,86.72 514.10,86.88 514.30,86.89 514.90,86.75 515.70,86.84 515.90,86.51 516.10,86.53 516.30,86.32 516.70,86.44 516.90,86.67 517.10,86.56 517.50,85.89 517.70,85.78 517.90,85.87 518.10,85.70 518.50,86.13 518.70,86.24 519.10,86.05 519.30,86.35 519.50,86.30 519.70,86.45 519.90,86.39 520.30,86.60 520.90,86.25 521.10,86.52 521.30,86.62 522.10,86.59 522.30,86.51 522.50,86.59 522.70,86.91 523.10,86.82 523.30,86.52 524.10,86.87 524.50,86.49 524.70,86.43 525.30,86.46 525.50,86.35 525.90,86.29 526.30,86.48 526.50,86.28 526.70,86.32 526.90,86.13 527.10,86.30 527.30,86.25 527.50,86.31 527.70,86.25 528.50,85.68 528.70,85.71 528.90,85.39 529.10,85.25 529.90,83.24 530.30,81.22 530.70,77.19 530.90,74.04 531.70,51.76 531.90,47.84 532.10,47.74 532.30,51.56 532.90,69.61 533.30,77.50 533.70,81.56 533.90,82.60 534.30,83.90 534.70,84.83 534.90,85.03 535.50,85.18 535.90,85.00 536.30,85.25 536.50,84.97 537.10,83.82 537.30,83.17 537.70,80.72 538.10,77.49 538.30,77.21 538.50,78.17 539.30,83.86 539.70,85.06 540.10,85.74 540.30,85.90 540.50,85.87 541.10,86.22 541.50,86.05 542.10,86.47 542.30,86.73 542.70,86.50 543.10,86.08 543.30,86.38 543.50,86.40 543.70,86.69 544.10,86.41 544.50,86.26 544.90,86.33 545.10,86.28 545.30,86.49 545.50,86.34 545.70,86.53 545.90,86.30 546.30,86.21 546.70,86.35 547.10,86.19 547.90,86.24 548.30,86.02 548.50,85.80 548.70,85.81 548.90,85.68 549.10,85.66 549.50,85.74 549.70,85.53 550.30,85.49 550.70,84.83 551.10,84.81 551.30,84.60 551.70,83.22 552.10,81.23 552.50,76.12 553.30,56.01 553.50,53.74 553.70,55.68 554.50,74.75 554.90,79.38 555.10,80.60 555.30,81.04 555.50,81.18 555.90,80.25 556.30,78.58 556.70,74.25 556.90,70.06 557.30,55.65 557.70,35.37 557.90,28.52 558.10,28.45 559.10,69.13 559.30,73.13 559.70,76.75 559.90,77.27 560.10,76.88 560.50,73.31 560.90,65.69 561.50,48.71 561.70,45.55 561.90,46.49 562.50,64.31 562.90,73.70 563.30,78.79 563.70,81.70 564.10,82.52 564.30,82.58 564.70,83.41 565.10,83.64 565.30,83.43 565.50,83.36 565.90,82.77 566.50,81.07 567.10,77.00 567.30,76.80 568.30,81.20 568.70,81.93 568.90,81.91 569.30,81.59 569.90,81.95 570.10,81.72 570.50,81.82 570.90,81.72 571.30,81.96 571.50,81.97 571.70,81.66 571.90,81.59 572.10,81.07 573.10,76.95 573.30,77.00 573.50,77.60 574.10,80.62 574.50,82.05 574.90,83.00 575.10,82.97 575.90,82.08 576.30,80.61 576.70,77.21 576.90,74.33 577.30,63.62 578.10,22.39 578.30,20.04 578.50,26.34 579.10,59.66 579.30,67.62 579.70,76.69 580.10,80.54 580.30,81.70 580.70,83.20 580.90,83.40 581.50,84.77 581.90,85.06 582.30,85.64 582.70,85.88 582.90,85.75 583.10,85.87 583.90,85.82 584.10,86.07 584.50,85.91 584.70,85.74 585.30,86.28 585.50,86.22 585.70,86.29 585.90,86.21 586.50,86.35 586.70,86.20 586.90,86.17 587.10,86.19 587.50,86.39 587.70,86.33 587.90,86.42 588.10,86.30 588.30,86.61 588.50,86.35 588.70,86.34 588.90,86.09 589.10,86.36 589.50,86.14 590.10,86.13 590.30,85.93 590.50,85.94 591.10,85.43 591.50,85.49 591.90,85.25 592.30,84.73 592.70,83.90 593.10,82.41 593.50,80.41 593.70,78.40 594.10,71.47 595.10,37.14 595.30,35.71 595.50,39.77 596.30,69.19 596.50,73.84 596.90,79.32 597.30,81.87 597.70,83.01 598.10,83.35 598.30,83.34 598.50,83.51 598.70,83.05 598.90,82.81 599.10,81.88 599.50,81.06 599.90,81.42 600.10,81.89 600.70,84.03 600.90,84.42 601.10,84.53 601.70,85.78 601.90,86.03 602.10,85.93 602.30,86.17 603.30,86.83 603.50,86.60 603.70,86.51 603.90,86.49 604.10,86.58 604.30,86.40 604.50,86.36 604.90,86.64 605.10,86.62 605.90,86.83 606.50,86.61 606.70,86.77 606.90,87.20 607.30,86.87 607.50,86.52 607.70,86.77 607.90,86.74 608.30,86.92 608.70,86.93 609.10,87.16 609.30,87.01 609.50,87.06 609.70,86.91 609.90,87.10 610.10,86.86 610.30,86.88 610.50,86.79 610.70,86.89 611.30,86.69 611.50,86.77 611.70,86.69 611.90,86.83 612.10,86.76 612.30,87.03 612.70,87.19 612.90,87.17 613.30,86.88 613.50,86.63 614.10,86.60 614.30,86.64 614.70,87.10 614.90,87.17 615.50,86.68 615.90,86.61 616.50,86.67 616.90,86.41 617.30,86.42 617.50,86.17 617.90,85.31 618.10,85.10 618.30,84.50 619.10,80.20 619.30,79.52 619.50,79.31 619.70,79.51 620.10,81.07 620.70,84.58 621.10,85.56 621.50,86.28 621.90,86.50 622.10,86.52 622.30,86.40 622.70,86.49 623.50,86.96 623.90,86.69 624.10,86.78 624.30,87.07 624.50,87.18 624.70,87.19 624.90,86.90 625.50,87.09 625.90,86.94 626.50,87.31 626.70,87.29 627.50,86.91 628.50,87.43 628.90,87.31 629.30,86.93 629.50,87.13 629.70,87.06 629.90,87.18 630.50,87.13 630.70,86.94 631.30,87.09 631.50,87.21 631.90,87.23 632.10,87.13 632.50,87.25 633.10,86.92 633.30,86.90 633.50,86.61 633.70,86.62 633.90,86.74 634.10,87.12 634.50,87.14 634.70,87.02 635.30,86.90 635.90,87.10 636.30,86.99 636.50,86.83 636.70,86.89 636.90,86.83 637.10,86.94 637.30,86.68 637.90,86.79 638.10,86.57 638.30,86.47 638.70,86.56 638.90,86.44 639.50,86.34 639.90,86.10 640.70,85.22 641.10,83.93 641.30,82.94 641.70,79.53 642.50,66.52 642.70,64.63 642.90,65.31 643.10,67.67 643.70,77.10 643.90,79.26 644.30,81.73 644.70,82.25 645.10,82.08 645.30,82.19 645.50,82.17 645.90,81.96 646.10,82.09 646.30,82.73 647.30,84.86 647.50,84.98 647.90,85.82 648.10,86.05 648.50,85.74 649.10,86.70 649.30,86.54 649.70,86.49 649.90,86.77 650.10,86.88 650.50,86.76 650.70,86.81 650.90,86.98 651.50,86.86 651.70,86.64 652.10,86.86 652.30,87.16 652.50,87.04 652.70,86.76 653.30,86.98 653.50,86.86 653.90,86.83 654.10,86.92 654.30,86.89 654.50,87.03 654.70,86.85 654.90,86.83 655.50,86.31 655.70,85.94 656.10,84.82 656.90,81.51 657.10,81.03 657.30,80.83 657.50,81.18 657.90,82.94 658.70,85.49 659.30,86.50 659.50,86.70 659.70,86.77 660.50,86.70 661.10,86.99 661.50,87.03 662.10,86.88 662.30,87.09 662.50,86.99 663.10,87.06 663.70,86.70 663.90,86.90 664.30,86.99 664.50,86.78 664.90,86.82 665.30,86.73 666.30,86.35 666.50,86.16 666.70,86.39 666.90,86.23 667.10,86.25 667.30,85.79 667.70,85.45 667.90,85.44 668.30,85.48 668.50,85.63 668.90,86.19 669.70,86.44 670.10,86.26 670.30,86.62 670.50,86.75 671.30,86.99 671.50,86.96 671.70,87.05 672.10,86.72 672.50,86.93 672.70,87.20 672.90,87.14 673.10,87.33 673.90,86.89 674.30,87.33 674.50,87.42 674.70,87.41 674.90,87.07 675.30,87.04 675.90,87.49 676.10,87.51 676.30,87.50 676.50,87.21 676.70,87.27 677.30,87.19" fill="none" stroke="#2c2cff" stroke-width="1.25" stroke-linejoin="round" stroke-linecap="butt"/>
<path d="M350.50,174.59 363.90,174.72 366.10,174.65 367.30,174.48 367.70,174.32 368.10,174.00 368.50,173.25 369.50,168.90 369.70,168.90 370.50,172.62 370.70,173.28 371.10,174.04 371.50,174.38 372.10,174.60 373.10,174.76 374.90,174.87 389.50,175.14 392.30,175.12 393.70,175.00 394.10,174.90 394.50,174.65 394.90,173.97 395.70,170.71 395.90,170.71 396.50,173.35 396.70,174.00 397.10,174.69 397.50,174.95 398.10,175.10 400.50,175.28 405.90,175.32 406.50,175.17 407.30,174.70 408.10,175.19 408.50,175.33 411.30,175.48 445.10,175.85 459.10,175.91 466.50,175.85 468.30,175.74 469.30,175.49 469.90,174.97 470.70,173.53 470.90,173.22 471.10,173.10 471.30,173.22 471.50,173.53 472.30,174.96 472.70,175.36 473.50,175.67 475.10,175.81 479.30,175.84 481.70,175.73 482.50,175.49 483.50,174.57 483.70,174.50 483.90,174.57 484.90,175.47 485.50,175.68 487.50,175.77 489.90,175.66 490.50,175.52 490.90,175.28 491.30,174.82 492.10,173.53 492.30,173.53 492.50,173.76 493.10,174.81 493.70,175.41 494.30,175.62 495.30,175.71 501.50,175.77 514.30,175.66 515.90,175.52 517.50,175.00 518.90,175.43 520.10,175.55 523.50,175.46 525.90,175.18 527.30,174.76 527.90,174.41 528.30,174.07 528.70,173.56 529.10,172.73 529.50,171.14 529.90,167.80 530.10,164.97 531.10,140.61 531.30,139.62 531.50,142.41 532.10,158.78 532.50,166.42 532.90,170.41 533.10,171.52 533.50,172.80 534.10,173.70 534.50,173.99 534.90,174.15 535.30,174.17 535.70,174.01 536.10,173.47 536.50,172.06 537.30,166.11 537.50,165.50 537.70,166.15 538.50,172.28 538.90,173.79 539.10,174.20 539.50,174.65 540.10,174.96 540.70,175.11 542.70,175.29 545.90,175.20 548.10,174.86 548.90,174.59 549.50,174.27 549.90,173.95 550.30,173.48 550.70,172.75 550.90,172.18 551.30,170.14 551.70,165.54 551.90,161.68 552.50,145.29 552.70,142.16 552.90,143.15 553.70,162.88 554.10,167.95 554.30,169.18 554.50,169.85 554.70,170.14 554.90,170.15 555.10,169.92 555.30,169.42 555.50,168.55 555.90,164.87 556.30,156.24 557.10,123.75 557.30,121.96 557.50,126.78 557.90,144.57 558.30,158.25 558.50,162.30 558.70,164.85 558.90,166.26 559.10,166.83 559.30,166.69 559.50,165.83 559.90,161.50 560.70,142.08 560.90,138.68 561.10,138.80 561.30,142.43 561.90,158.89 562.30,166.03 562.70,169.70 562.90,170.71 563.30,171.89 563.70,172.50 564.30,172.91 564.90,172.91 565.30,172.61 565.70,171.93 565.90,171.40 566.70,168.17 566.90,167.62 567.10,167.51 567.30,167.85 568.10,170.27 568.50,170.87 568.70,171.01 569.10,171.09 570.70,170.95 571.10,170.80 571.50,170.32 571.70,169.86 572.50,166.66 572.70,166.25 572.90,166.49 573.50,169.29 573.90,170.73 574.10,171.13 574.30,171.35 574.50,171.40 574.70,171.32 574.90,171.12 575.10,170.77 575.50,169.53 575.70,168.42 576.10,164.12 576.30,160.09 576.70,145.82 577.30,113.02 577.50,108.75 577.70,113.09 578.50,154.47 578.90,164.63 579.30,169.12 579.70,171.20 580.10,172.36 580.50,173.10 580.90,173.61 581.50,174.13 582.10,174.47 582.90,174.76 584.70,175.07 587.30,175.14 589.30,174.90 590.50,174.48 591.30,173.92 591.90,173.16 592.50,171.74 592.90,169.80 593.10,168.14 593.50,162.23 593.90,150.95 594.50,126.80 594.70,122.69 594.90,124.12 595.70,154.29 596.10,164.03 596.30,166.93 596.70,170.23 597.10,171.77 597.30,172.20 597.70,172.68 597.90,172.74 598.30,172.53 599.10,171.09 599.30,170.81 599.50,170.75 599.70,170.97 600.50,173.13 601.10,174.32 601.70,174.91 602.50,175.24 604.70,175.57 608.70,175.75 613.30,175.75 615.70,175.52 616.30,175.35 616.70,175.13 617.10,174.73 617.30,174.41 617.90,172.69 618.70,168.87 618.90,168.32 619.10,168.32 619.30,168.87 620.10,172.70 620.50,174.00 620.70,174.44 621.10,174.99 621.50,175.29 621.90,175.46 623.10,175.70 624.90,175.83 631.90,175.90 636.30,175.70 637.50,175.52 638.50,175.23 639.30,174.76 639.90,174.01 640.30,172.94 640.50,172.02 640.90,168.82 641.10,166.33 641.70,156.30 641.90,154.08 642.10,154.01 642.30,156.07 642.90,165.59 643.10,167.88 643.50,170.59 643.70,171.23 643.90,171.56 644.10,171.68 645.10,171.45 645.50,171.69 647.10,174.17 647.50,174.62 648.10,175.10 648.70,175.38 649.30,175.55 651.10,175.75 653.30,175.72 654.10,175.61 654.70,175.39 655.10,175.08 655.50,174.50 655.90,173.48 656.70,170.48 656.90,170.06 657.10,170.06 657.30,170.49 658.10,173.51 658.50,174.54 658.70,174.88 659.10,175.32 659.70,175.62 661.30,175.88 663.70,175.92 665.10,175.78 667.30,175.27 668.10,175.20 668.70,175.29 670.70,175.81 671.90,176.00 673.70,176.11 677.30,176.18" fill="none" stroke="#ff2c2c" stroke-width="1.25" stroke-linejoin="round" stroke-linecap="butt"/>
<path d="M350.50,242.20 389.70,243.10 394.50,243.14 395.30,243.00 395.70,242.71 396.10,242.08 396.70,240.78 396.90,240.53 397.10,240.54 397.30,240.79 397.90,242.12 398.30,242.77 398.70,243.08 399.10,243.21 401.70,243.36 406.30,243.43 407.10,243.24 407.90,242.59 408.30,242.40 408.70,242.60 409.50,243.29 410.10,243.50 415.70,243.69 436.50,244.05 453.50,244.20 455.10,244.13 455.50,244.01 456.30,243.57 456.70,243.51 457.90,244.08 458.70,244.19 468.70,244.15 469.70,244.04 470.30,243.75 470.70,243.27 471.50,241.62 471.70,241.31 471.90,241.20 472.10,241.31 472.30,241.61 473.10,243.25 473.50,243.74 474.10,244.02 474.90,244.10 484.10,244.09 490.90,243.95 491.30,243.87 491.70,243.65 492.90,242.12 493.10,242.12 493.30,242.29 493.90,243.19 494.30,243.63 494.70,243.83 495.50,243.93 505.50,243.88 511.70,243.75 512.30,243.64 512.70,243.40 513.50,242.39 513.70,242.18 513.90,242.10 514.10,242.18 514.30,242.39 515.10,243.38 515.50,243.60 515.90,243.69 518.30,243.73 523.10,243.65 525.50,243.53 527.10,243.33 528.30,242.99 528.90,242.58 529.30,241.92 529.70,240.27 530.10,236.45 530.30,233.35 531.10,215.12 531.30,211.75 531.50,210.50 531.70,211.75 531.90,215.11 532.50,229.34 532.90,236.41 533.30,240.20 533.50,241.21 533.90,242.23 534.30,242.64 535.10,242.95 535.50,242.99 535.90,242.92 536.30,242.61 536.70,241.83 536.90,241.21 537.50,238.70 537.70,237.97 537.90,237.55 538.10,237.56 538.30,238.00 539.10,241.32 539.50,242.45 539.90,243.03 540.30,243.27 540.90,243.40 542.10,243.49 546.50,243.52 550.70,243.39 553.10,243.12 554.50,242.68 554.90,242.44 555.30,242.03 555.70,241.13 556.10,238.82 556.50,233.40 556.70,229.03 557.30,211.32 557.50,206.38 557.70,203.88 557.90,204.62 558.10,208.29 558.90,229.39 559.10,232.24 559.30,233.59 559.50,233.54 559.70,232.27 560.70,217.88 560.90,216.41 561.10,216.50 561.30,218.15 561.50,220.98 562.30,234.44 562.70,238.67 562.90,240.00 563.30,241.54 563.70,242.23 564.10,242.54 564.50,242.71 565.10,242.78 565.50,242.68 566.70,241.78 566.90,241.70 567.30,241.83 568.50,242.95 569.10,243.20 569.70,243.28 572.10,243.29 573.90,243.13 574.90,242.86 575.30,242.58 575.50,242.34 575.90,241.32 576.30,238.92 576.70,234.31 577.30,224.44 577.50,221.83 577.70,220.56 577.90,220.99 578.10,223.01 578.90,235.70 579.30,239.71 579.50,240.90 579.90,242.18 580.10,242.49 580.50,242.82 581.30,243.10 582.50,243.28 584.10,243.38 589.90,243.47 609.30,243.42 612.90,243.36 614.90,243.23 615.70,243.01 616.10,242.67 616.30,242.39 616.70,241.48 617.70,237.96 617.90,237.58 618.10,237.51 618.30,237.74 618.90,239.16 619.10,239.50 619.30,239.68 619.50,239.69 620.10,239.29 620.30,239.30 620.50,239.50 621.70,242.23 622.10,242.76 622.70,243.10 623.70,243.23 624.70,243.19 625.30,242.97 626.10,242.35 626.50,242.20 626.90,242.36 627.90,243.10 628.90,243.30 635.70,243.26 637.70,243.15 638.90,242.97 639.50,242.76 639.90,242.39 640.30,241.48 640.50,240.66 640.90,237.94 641.70,229.96 641.90,228.90 642.10,228.88 642.30,229.88 643.10,237.38 643.30,238.64 643.50,239.38 643.70,239.59 643.90,239.34 644.70,236.02 644.90,235.55 645.10,235.59 645.30,236.17 646.30,241.20 646.70,242.25 646.90,242.55 647.30,242.86 647.90,243.03 648.90,243.14 651.90,243.21 652.70,243.06 653.70,242.56 654.10,242.51 655.10,242.99 655.70,243.18 658.90,243.25 660.10,243.11 661.10,242.61 661.50,242.50 661.90,242.61 662.90,243.11 663.70,243.24 677.30,243.24" fill="none" stroke="#242424" stroke-width="1.05" stroke-linejoin="round" stroke-linecap="butt"/>
<path d="M350.50,273.40 406.10,275.38 426.50,276.00 449.30,276.39 467.30,276.35 512.70,275.47 552.70,275.18 553.90,275.03 554.50,274.64 554.90,274.04 555.70,272.27 555.90,272.04 556.10,272.02 556.30,272.24 557.10,273.79 557.30,274.00 557.50,274.07 557.70,273.99 557.90,273.78 558.50,272.75 558.70,272.49 558.90,272.40 559.10,272.51 559.30,272.80 560.10,274.32 560.70,274.90 561.50,275.09 563.30,275.08 563.90,275.01 564.30,274.88 564.70,274.57 564.90,274.32 565.30,273.52 566.10,271.26 566.30,270.89 566.50,270.75 566.70,270.89 566.90,271.27 567.70,273.53 568.30,274.59 568.90,274.98 569.90,275.13 573.90,275.19 575.70,275.07 576.10,274.90 576.50,274.53 577.30,273.18 577.70,272.76 577.90,272.80 578.10,273.02 578.90,274.40 579.30,274.84 579.90,275.11 580.70,275.19 603.90,275.30 605.10,275.20 606.50,274.80 607.90,275.21 608.70,275.30 621.90,275.34 622.70,275.30 623.30,275.16 624.30,274.48 624.70,274.30 625.10,274.42 626.10,275.12 626.90,275.32 637.90,275.39 640.10,275.31 640.70,275.17 640.90,275.02 641.10,274.69 641.30,274.02 641.90,270.66 642.10,270.62 642.70,273.43 642.90,273.65 643.10,273.42 643.50,272.64 643.70,272.67 644.50,274.73 644.90,275.18 645.30,275.31 650.10,275.44 671.30,275.46 672.50,275.33 673.70,274.67 674.10,274.61 675.50,275.33 676.10,275.44 677.30,275.48" fill="none" stroke="#242424" stroke-width="1.05" stroke-linejoin="round" stroke-linecap="butt"/>
<path d="M350.50,306.30 365.50,306.60 367.70,306.60 368.70,306.52 369.10,306.37 369.30,306.21 369.70,305.55 370.50,302.64 370.70,302.03 370.90,301.80 371.10,302.04 371.30,302.66 372.10,305.61 372.50,306.29 372.70,306.46 373.10,306.63 374.10,306.76 376.50,306.88 390.90,307.28 426.70,308.07 441.10,308.25 454.10,308.30 469.50,308.17 484.50,307.86 485.50,307.77 486.10,307.62 487.50,306.76 488.10,306.60 488.50,306.74 489.90,307.54 490.50,307.67 491.50,307.72 516.70,307.33 556.30,307.02 558.50,306.88 559.10,306.71 559.50,306.42 560.10,305.50 561.10,302.94 561.30,302.62 561.50,302.50 561.70,302.61 561.90,302.93 562.70,305.01 563.10,305.85 563.70,306.54 564.10,306.73 564.70,306.84 567.10,306.86 568.50,306.76 569.30,306.57 569.90,306.17 570.30,305.65 570.70,304.81 571.10,303.58 572.30,298.92 572.50,298.47 572.70,298.26 572.90,298.33 573.30,299.23 574.50,303.92 575.10,305.47 575.50,306.07 575.90,306.41 576.50,306.66 577.50,306.81 579.30,306.89 580.50,306.82 581.10,306.65 582.30,306.01 582.70,305.90 583.10,305.97 584.30,306.64 584.90,306.84 585.70,306.95 587.10,306.98 641.90,307.03 661.50,306.97 662.90,306.90 663.90,306.69 664.70,306.25 665.90,305.23 666.50,305.00 667.10,305.23 668.70,306.50 669.70,306.84 671.50,306.96 677.30,306.99" fill="none" stroke="#242424" stroke-width="1.05" stroke-linejoin="round" stroke-linecap="butt"/>
<path d="M350.50,330.50 404.90,332.13 423.10,332.61 444.10,332.95 461.30,332.98 474.10,332.81 514.50,332.05 563.70,331.87 564.90,331.74 565.50,331.36 565.90,330.77 566.70,329.01 566.90,328.78 567.10,328.78 567.50,329.41 568.10,330.77 568.50,331.37 569.10,331.75 570.50,331.90 677.30,332.50" fill="none" stroke="#242424" stroke-width="1.05" stroke-linejoin="round" stroke-linecap="butt"/>
<path d="M350.50,355.60 414.90,357.17 431.30,357.45 446.10,357.59 456.10,357.58 466.90,357.46 502.70,356.65 515.90,356.44 535.10,356.33 563.50,356.30 565.10,356.14 566.90,355.40 567.30,355.45 568.50,356.01 569.10,356.20 571.10,356.33 677.30,357.00" fill="none" stroke="#242424" stroke-width="1.05" stroke-linejoin="round" stroke-linecap="butt"/>
<path d="M350.50,377.00 413.90,379.59 430.70,380.08 445.70,380.31 455.90,380.30 467.30,380.13 513.70,378.93 514.90,378.85 515.70,378.65 516.30,378.33 517.30,377.63 517.70,377.50 518.30,377.67 519.30,378.36 519.90,378.64 520.70,378.80 521.90,378.85 553.10,378.70 554.70,378.52 555.30,378.33 556.70,377.70 557.30,377.60 557.90,377.74 559.10,378.29 559.90,378.54 560.90,378.68 562.30,378.72 677.30,379.25" fill="none" stroke="#242424" stroke-width="1.05" stroke-linejoin="round" stroke-linecap="butt"/>
<path d="M536.00,409.50 642.80,409.50 653.60,409.42 655.00,409.23 655.40,408.96 655.60,408.67 656.00,407.64 656.80,404.50 657.00,404.25 657.20,404.50 657.40,405.15 658.20,408.24 658.60,408.96 658.80,409.13 659.20,409.30 660.20,409.41 662.60,409.47 677.20,409.50" fill="none" stroke="#242424" stroke-width="1.05" stroke-linejoin="round" stroke-linecap="butt"/>
<path d="M373.65,435.20 424.85,436.38 438.45,436.60 450.45,436.70 468.85,436.61 504.05,436.05 518.65,435.91 549.65,435.86 595.25,435.99 597.05,435.92 597.45,435.86 597.85,435.68 598.25,435.21 598.45,434.81 599.25,432.48 599.45,432.21 599.65,432.31 599.85,432.72 600.45,434.56 600.85,435.39 601.05,435.62 601.45,435.85 602.45,435.99 610.05,436.11 627.85,436.18 628.45,436.12 628.85,435.98 629.25,435.66 630.05,434.68 630.25,434.60 630.45,434.68 631.25,435.67 631.65,435.99 632.05,436.14 632.85,436.22 677.25,436.50" fill="none" stroke="#242424" stroke-width="1.05" stroke-linejoin="round" stroke-linecap="butt"/>
<path d="M409.10,462.10 449.70,462.91 469.90,463.10 483.30,462.98 517.50,462.32 561.10,462.13 562.70,462.09 563.50,461.94 564.10,461.49 564.90,460.41 565.10,460.24 565.30,460.20 565.70,460.54 566.50,461.60 566.90,461.89 567.50,462.06 568.70,462.12 677.30,462.50" fill="none" stroke="#242424" stroke-width="1.05" stroke-linejoin="round" stroke-linecap="butt"/>
<path d="M376.20,486.20 426.40,487.54 440.00,487.79 452.00,487.91 471.20,487.83 513.40,487.24 542.40,487.12 544.00,486.99 545.60,486.37 546.00,486.30 546.40,486.37 548.00,486.99 548.80,487.09 550.20,487.12 677.20,487.50" fill="none" stroke="#242424" stroke-width="1.05" stroke-linejoin="round" stroke-linecap="butt"/>
<path d="M510.90,535.29 535.90,535.27 544.70,535.18 547.10,535.07 548.70,534.89 549.70,534.63 550.50,534.19 550.90,533.80 551.30,533.15 551.70,531.99 552.10,529.63 552.30,527.48 552.70,518.68 553.10,503.11 553.30,503.11 553.70,518.68 554.10,527.48 554.30,529.63 554.70,531.98 555.10,533.15 555.50,533.79 555.90,534.19 556.30,534.44 556.90,534.69 558.70,535.01 561.70,535.15 566.70,535.19 570.70,535.13 573.10,534.96 574.50,534.64 575.30,534.13 575.70,533.61 576.10,532.66 576.50,530.66 576.70,528.80 576.90,525.81 577.30,515.25 577.50,512.00 577.70,515.25 578.10,525.81 578.30,528.79 578.70,531.85 578.90,532.65 579.30,533.60 579.90,534.29 580.50,534.61 581.50,534.87 582.90,535.02 585.70,535.07 588.30,534.96 589.90,534.75 591.10,534.34 591.70,533.92 592.10,533.45 592.50,532.70 592.70,532.14 593.10,530.32 593.50,526.51 593.90,517.26 594.30,497.11 594.50,490.90 594.70,497.11 595.10,517.26 595.50,526.52 595.70,528.80 596.10,531.39 596.50,532.71 597.10,533.72 597.90,534.36 598.90,534.73 600.50,534.98 602.70,535.13 611.50,535.25 636.70,535.29" fill="none" stroke="#242424" stroke-width="1.05" stroke-linejoin="round" stroke-linecap="butt"/>
<path d="M4.50,556.21 5.00,556.12 5.50,556.19 6.00,556.31 6.50,556.21 7.00,556.35 7.50,556.32 8.00,556.10 8.50,556.12 9.00,556.17 9.50,556.07 10.00,556.12 10.50,556.26 11.00,556.14 11.50,555.93 12.00,556.12 12.50,556.43 13.00,556.40 13.50,556.37 14.00,556.47 14.50,556.40 15.00,556.38 15.50,556.33 16.00,556.06 16.50,556.08 17.00,556.14 17.50,556.20 18.00,556.43 18.50,556.42 19.00,556.34 19.50,556.53 20.00,556.61 20.50,556.39 21.00,556.12 21.50,556.34 22.00,556.30 22.50,555.87 23.00,555.77 23.50,556.09 24.00,556.15 24.50,556.00 25.00,556.14 25.50,556.31 26.00,556.18 26.50,556.04 27.00,556.22 27.50,556.37 28.00,556.31 28.50,556.19 29.00,556.18 29.50,556.27 30.00,556.41 30.50,556.25 31.00,556.20 31.50,556.08 32.00,556.03 32.50,556.10 33.00,556.05 33.50,556.25 34.00,556.53 34.50,556.45 35.00,556.20 35.50,556.14 36.00,556.24 36.50,556.25 37.00,556.28 37.50,556.47 38.00,556.43 38.50,556.22 39.00,556.23 39.50,556.20 40.00,555.92 40.50,556.12 41.00,556.53 41.50,556.55 42.00,556.30 42.50,555.78 43.00,555.74 43.50,556.18 44.00,556.22 44.50,556.30 45.00,556.25 45.50,556.15 46.00,556.27 46.50,556.24 47.00,556.06 47.50,556.02 48.00,556.21 48.50,556.17 49.00,556.00 49.50,555.99 50.00,556.03 50.50,556.12 51.00,556.33 51.50,556.33 52.00,556.26 52.50,556.21 53.00,556.19 53.50,555.99 54.00,555.98 54.50,556.29 55.00,556.23 55.50,556.20 56.00,556.10 56.50,556.02 57.00,556.17 57.50,556.22 58.00,556.25 58.50,556.45 59.00,556.08 59.50,555.67 60.00,555.95 60.50,556.12 61.00,556.12 61.50,556.04 62.00,555.94 62.50,555.86 63.00,555.94 63.50,556.25 64.00,556.26 64.50,556.40 65.00,556.61 65.50,556.27 66.00,556.24 66.50,556.39 67.00,556.16 67.50,555.87 68.00,556.17 68.50,556.24 69.00,556.17 69.50,556.35 70.00,556.07 70.50,556.07 71.00,556.32 71.50,556.39 72.00,556.32 72.50,556.23 73.00,556.28 73.50,556.20 74.00,556.34 74.50,556.47 75.00,556.46 75.50,556.39 76.00,556.35 76.50,556.21 77.00,556.01 77.50,556.23 78.00,556.27 78.50,556.12 79.00,556.16 79.50,556.03 80.00,556.03 80.50,556.26 81.00,556.20 81.50,556.02 82.00,556.25 82.50,556.42 83.00,556.12 83.50,556.01 84.00,555.94 84.50,555.81 85.00,555.78 85.50,555.88 86.00,556.14 86.50,556.31 87.00,556.25 87.50,556.28 88.00,556.36 88.50,556.12 89.00,555.96 89.50,556.12 90.00,556.29 90.50,556.38 91.00,556.15 91.50,555.82 92.00,556.19 92.50,556.38 93.00,556.26 93.50,556.30 94.00,556.04 94.50,556.19 95.00,556.39 95.50,556.40 96.00,556.42 96.50,556.15 97.00,556.07 97.50,556.29 98.00,556.22 98.50,556.13 99.00,556.34 99.50,556.18 100.00,556.01 100.50,556.17 101.00,556.32 101.50,556.29 102.00,556.10 102.50,556.17 103.00,556.19 103.50,556.17 104.00,556.28 104.50,556.21 105.00,556.26 105.50,556.42 106.00,556.18 106.50,556.11 107.00,556.23 107.50,556.14 108.00,556.17 108.50,556.33 109.00,556.31 109.50,556.14 110.00,556.02 110.50,556.04 111.00,556.18 111.50,556.09 112.00,556.06 112.50,556.21 113.00,556.40 113.50,556.32 114.00,556.39 114.50,556.53 115.00,556.40 115.50,556.36 116.00,556.28 116.50,556.14 117.00,556.12 117.50,556.20 118.00,556.23 118.50,556.39 119.00,556.59 119.50,556.48 120.00,556.37 120.50,556.24 121.00,555.91 121.50,555.98 122.00,556.22 122.50,556.39 123.00,556.63 123.50,556.50 124.00,556.38 124.50,556.48 125.00,556.36 125.50,556.32 126.00,556.34 126.50,556.42 127.00,556.27 127.50,555.84 128.00,555.97 128.50,556.33 129.00,556.43 129.50,556.27 130.00,556.21 130.50,556.20 131.00,556.22 131.50,556.21 132.00,556.01 132.50,556.20 133.00,556.18 133.50,555.91 134.00,556.14 134.50,556.31 135.00,555.97 135.50,556.09 136.00,556.21 136.50,556.03 137.00,556.15 137.50,556.42 138.00,556.43 138.50,556.31 139.00,556.30 139.50,556.25 140.00,556.12 140.50,556.06 141.00,556.15 141.50,556.04 142.00,556.14 142.50,556.36 143.00,556.38 143.50,556.23 144.00,556.26 144.50,556.17 145.00,556.13 145.50,556.31 146.00,556.26 146.50,556.18 147.00,556.20 147.50,556.17 148.00,556.13 148.50,556.27 149.00,556.08 149.50,556.14 150.00,556.40 150.50,556.29 151.00,556.13 151.50,556.06 152.00,556.10 152.50,556.22 153.00,556.36 153.50,556.41 154.00,556.35 154.50,556.00 155.00,555.88 155.50,556.07 156.00,556.21 156.50,556.08 157.00,556.02 157.50,556.19 158.00,556.15 158.50,556.12 159.00,556.44 159.50,556.46 160.00,556.42 160.50,556.45 161.00,556.16 161.50,556.19 162.00,556.22 162.50,556.15 163.00,555.95 163.50,556.00 164.00,556.18 164.50,556.26 165.00,556.34 165.50,556.17 166.00,556.05 166.50,556.09 167.00,556.16 167.50,556.08 168.00,556.32 168.50,556.39 169.00,556.28 169.50,556.46 170.00,556.41 170.50,556.31 171.00,556.33 171.50,556.36 172.00,556.37 172.50,556.32 173.00,556.27 173.50,556.16 174.00,556.10 174.50,556.08 175.00,556.15 175.50,556.36 176.00,556.24 176.50,556.03 177.00,556.03 177.50,556.09 178.00,556.31 178.50,556.28 179.00,556.20 179.50,555.98 180.00,555.93 180.50,556.24 181.00,556.19 181.50,555.96 182.00,556.07 182.50,556.24 183.00,556.39 183.50,556.33 184.00,556.12 184.50,556.14 185.00,556.17 185.50,556.01 186.00,556.15 186.50,556.42 187.00,556.24 187.50,556.14 188.00,556.22 188.50,556.30 189.00,556.19 189.50,556.14 190.00,556.22 190.50,556.19 191.00,556.12 191.50,556.12 192.00,556.11 192.50,556.02 193.00,555.96 193.50,556.14 194.00,556.33 194.50,556.28 195.00,555.81 195.50,555.65 196.00,556.08 196.50,556.43 197.00,556.51 197.50,556.31 198.00,556.14 198.50,556.12 199.00,556.34 199.50,556.41 200.00,556.13 200.50,556.20 201.00,556.39 201.50,556.07 202.00,555.91 202.50,556.24 203.00,556.41 203.50,556.17 204.00,556.07 204.50,556.30 205.00,556.33 205.50,556.13 206.00,556.07 206.50,556.25 207.00,556.33 207.50,556.15 208.00,556.35 208.50,556.48 209.00,556.06 209.50,556.01 210.00,555.87 210.50,555.83 211.00,556.13 211.50,556.46 212.00,556.49 212.50,556.27 213.00,556.33 213.50,556.31 214.00,556.16 214.50,556.29 215.00,556.41 215.50,556.43 216.00,556.49 216.50,556.22 217.00,556.06 217.50,556.11 218.00,556.12 218.50,556.21 219.00,556.24 219.50,556.10 220.00,556.28 220.50,556.51 221.00,556.36 221.50,556.10 222.00,556.03 222.50,556.06 223.00,556.03 223.50,556.01 224.00,556.13 224.50,556.27 225.00,556.29 225.50,556.16 226.00,556.14 226.50,556.46 227.00,556.45 227.50,556.19 228.00,556.46 228.50,556.54 229.00,556.18 229.50,556.24 230.00,556.23 230.50,556.09 231.00,556.28 231.50,556.25 232.00,555.99 232.50,556.13 233.00,556.38 233.50,556.15 234.00,556.02 234.50,556.29 235.00,556.36 235.50,556.33 236.00,556.29 236.50,556.13 237.00,556.08 237.50,556.12 238.00,556.20 238.50,555.94 239.00,555.72 239.50,556.01 240.00,556.29 240.50,556.22 241.00,556.14 241.50,556.10 242.00,555.95 242.50,556.08 243.00,556.22 243.50,556.15 244.00,556.02 244.50,556.08 245.00,556.22 245.50,556.18 246.00,556.17 246.50,556.16 247.00,556.23 247.50,556.31 248.00,556.45 248.50,556.56 249.00,556.36 249.50,556.08 250.00,556.15 250.50,556.21 251.00,556.31 251.50,556.21 252.00,556.01 252.50,556.33 253.00,556.38 253.50,556.29 254.00,556.36 254.50,556.23 255.00,556.25 255.50,556.21 256.00,556.08 256.50,556.40 257.00,556.42 257.50,556.23 258.00,556.13 258.50,556.24 259.00,556.25 259.50,556.03 260.00,556.06 260.50,556.04 261.00,555.95 261.50,556.02 262.00,556.12 262.50,556.14 263.00,556.09 263.50,556.00 264.00,556.07 264.50,556.17 265.00,556.11 265.50,556.10 266.00,556.18 266.50,556.29 267.00,556.38 267.50,556.32 268.00,556.36 268.50,556.24 269.00,556.28 269.50,556.37 270.00,556.17 270.50,556.19 271.00,556.13 271.50,556.28 272.00,556.42 272.50,556.07 273.00,555.92 273.50,556.03 274.00,556.09 274.50,556.19 275.00,556.35 275.50,556.41 276.00,556.37 276.50,556.16 277.00,556.22 277.50,556.45 278.00,556.13 278.50,555.93 279.00,556.10 279.50,556.08 280.00,556.23 280.50,556.36 281.00,556.26 281.50,556.08 282.00,555.85 282.50,555.88 283.00,556.01 283.50,556.02 284.00,555.88 284.50,555.81 285.00,555.99 285.50,556.19 286.00,556.18 286.50,556.12 287.00,556.17 287.50,556.18 288.00,556.32 288.50,556.24 289.00,556.13 289.50,556.08 290.00,556.18 290.50,556.40 291.00,556.38 291.50,556.32 292.00,556.20 292.50,556.05 293.00,556.09 293.50,556.38 294.00,556.05 294.50,556.09 295.00,556.30 295.50,556.16 296.00,556.16 296.50,556.10 297.00,556.27 297.50,556.27 298.00,556.37 298.50,556.40 299.00,556.27 299.50,556.20 300.00,556.08 300.50,556.10 301.00,556.21 301.50,556.43 302.00,556.38 302.50,556.07 303.00,556.00 303.50,555.99 304.00,556.10 304.50,556.25 305.00,556.09 305.50,556.05 306.00,556.26 306.50,556.35 307.00,556.19 307.50,556.22 308.00,556.32 308.50,556.18 309.00,556.16 309.50,556.42 310.00,556.28 310.50,556.19 311.00,556.29 311.50,556.25 312.00,556.31 312.50,556.27 313.00,556.21 313.50,556.18 314.00,556.27 314.50,556.32 315.00,556.09 315.50,556.09 316.00,556.39 316.50,556.44 317.00,556.32 317.50,556.03 318.00,556.07 318.50,556.33 319.00,556.43 319.50,556.25 320.00,556.07 320.50,556.12 321.00,556.11 321.50,555.99 322.00,555.96 322.50,556.10 323.00,556.11 323.50,556.33 324.00,556.30 324.50,556.08 325.00,556.27 325.50,556.26 326.00,556.27 326.50,556.38 327.00,556.18 327.50,556.05 328.00,556.14 328.50,556.19 329.00,556.19 329.50,556.15 330.00,556.20" fill="none" stroke="#141414" stroke-width="1.8" stroke-linejoin="round" stroke-linecap="butt"/>
<path d="M210.00,556.2 L210.50,545.4 L211.10,556.2 L211.70,562.4 L212.20,556.2 M230.10,556.2 L230.60,542.3 L231.20,556.2 L231.80,561.2 L232.30,556.2 M247.80,556.2 L248.30,554.6 L248.55,556.2 L248.80,557.8 L249.30,556.2 M269.90,556.2 L270.40,555.0 L270.65,556.2 L270.90,557.4 L271.40,556.2 M212.90,552.58 L213.30,559.27 L213.70,552.21 L214.10,558.82 L214.50,552.83 L214.90,559.08 L215.30,554.02 L215.70,558.97 L216.10,554.32 M183.70,553.67 L184.05,558.13 L184.40,554.29 L184.75,558.54 L185.10,553.37 " fill="none" stroke="#141414" stroke-width="1.2" stroke-linejoin="round" stroke-linecap="butt"/>
<path d="M350.50,556.02 351.00,555.89 351.50,556.02 352.00,555.81 352.50,555.77 353.00,556.05 353.50,555.75 354.00,555.32 354.50,556.04 355.00,556.45 355.50,556.08 356.00,555.98 356.50,556.44 357.00,556.56 357.50,555.65 358.00,555.84 358.50,556.06 359.00,556.04 359.50,556.27 360.00,556.50 360.50,556.66 361.00,556.22 361.50,556.47 362.00,557.31 362.50,556.78 363.00,556.34 363.50,556.59 364.00,556.42 364.50,555.98 365.00,555.60 365.50,556.32 366.00,556.62 366.50,556.10 367.00,556.54 367.50,557.02 368.00,556.73 368.50,556.13 369.00,555.93 369.50,556.60 370.00,556.05 370.50,555.22 371.00,555.56 371.50,556.25 372.00,556.53 372.50,556.39 373.00,556.38 373.50,556.28 374.00,556.56 374.50,557.51 375.00,557.31 375.50,556.69 376.00,556.44 376.50,556.52 377.00,556.66 377.50,556.28 378.00,556.13 378.50,555.87 379.00,555.85 379.50,555.79 380.00,555.59 380.50,556.36 381.00,556.83 381.50,556.60 382.00,556.61 382.50,555.96 383.00,555.83 383.50,555.97 384.00,555.75 384.50,555.96 385.00,556.22 385.50,556.28 386.00,556.27 386.50,556.16 387.00,556.14 387.50,556.56 388.00,557.15 388.50,557.11 389.00,556.45 389.50,556.25 390.00,556.58 390.50,556.74 391.00,556.82 391.50,556.88 392.00,556.66 392.50,556.24 393.00,555.71 393.50,556.08 394.00,556.67 394.50,556.14 395.00,555.98 395.50,556.10 396.00,555.98 396.50,556.56 397.00,556.58 397.50,556.77 398.00,556.83 398.50,555.97 399.00,556.04 399.50,556.90 400.00,556.82 400.50,556.30 401.00,555.72 401.50,555.74 402.00,555.99 402.50,555.79 403.00,556.54 403.50,556.50 404.00,556.33 404.50,556.34 405.00,556.05 405.50,556.18 406.00,556.57 406.50,556.52 407.00,556.22 407.50,555.93 408.00,555.47 408.50,555.77 409.00,556.18 409.50,556.22 410.00,556.56 410.50,556.71 411.00,556.18 411.50,556.03 412.00,556.34 412.50,556.21 413.00,555.51 413.50,555.36 414.00,555.95 414.50,556.38 415.00,556.32 415.50,555.73 416.00,556.19 416.50,556.56 417.00,556.06 417.50,556.21 418.00,556.53 418.50,556.36 419.00,556.01 419.50,555.87 420.00,556.25 420.50,556.37 421.00,556.29 421.50,555.80 422.00,555.53 422.50,555.95 423.00,555.95 423.50,555.52 424.00,555.53 424.50,556.49 425.00,556.70 425.50,556.12 426.00,555.84 426.50,555.61 427.00,555.87 427.50,556.03 428.00,555.86 428.50,556.32 429.00,556.69 429.50,556.61 430.00,555.90 430.50,555.57 431.00,556.35 431.50,556.18 432.00,556.20 432.50,556.52 433.00,556.43 433.50,556.33 434.00,555.74 434.50,555.58 435.00,556.30 435.50,556.49 436.00,555.75 436.50,556.07 437.00,555.98 437.50,555.71 438.00,556.23 438.50,556.35 439.00,556.37 439.50,556.27 440.00,555.48 440.50,555.57 441.00,556.23 441.50,556.11 442.00,556.26 442.50,556.52 443.00,556.45 443.50,556.65 444.00,557.19 444.50,556.86 445.00,556.16 445.50,555.72 446.00,555.98 446.50,555.85 447.00,556.15 447.50,556.91 448.00,556.30 448.50,556.22 449.00,556.12 449.50,555.63 450.00,556.08 450.50,556.11 451.00,555.96 451.50,556.21 452.00,556.57 452.50,556.69 453.00,556.70 453.50,556.85 454.00,556.20 454.50,555.64 455.00,555.27 455.50,555.60 456.00,555.42 456.50,555.18 457.00,555.28 457.50,555.34 458.00,556.20 458.50,556.13 459.00,555.78 459.50,555.89 460.00,556.12 460.50,555.84 461.00,555.79 461.50,556.17 462.00,555.86 462.50,555.61 463.00,556.23 463.50,556.70 464.00,556.48 464.50,556.06 465.00,555.84 465.50,555.71 466.00,555.32 466.50,555.55 467.00,555.87 467.50,555.66 468.00,555.49 468.50,555.93 469.00,556.14 469.50,555.60 470.00,556.29 470.50,556.24 471.00,555.74 471.50,555.94 472.00,556.07 472.50,556.37 473.00,556.46 473.50,556.42 474.00,555.93 474.50,556.35 475.00,556.54 475.50,556.09 476.00,556.06 476.50,555.92 477.00,556.06 477.50,556.72 478.00,557.03 478.50,556.65 479.00,556.42 479.50,556.54 480.00,556.19 480.50,556.39 481.00,556.64 481.50,555.73 482.00,555.83 482.50,556.08 483.00,555.99 483.50,556.43 484.00,556.26 484.50,556.15 485.00,556.61 485.50,556.15 486.00,555.26 486.50,555.61 487.00,556.06 487.50,556.66 488.00,557.00 488.50,556.58 489.00,556.27 489.50,555.60 490.00,555.26 490.50,555.70 491.00,556.12 491.50,556.09 492.00,556.07 492.50,556.37 493.00,556.15 493.50,555.84 494.00,555.77 494.50,556.22 495.00,555.93 495.50,555.76 496.00,556.52 496.50,555.80 497.00,555.46 497.50,556.31 498.00,556.20 498.50,555.74 499.00,555.97 499.50,556.49 500.00,556.68 500.50,556.13 501.00,555.58 501.50,555.35 502.00,555.82 502.50,555.64 503.00,555.38 503.50,556.14 504.00,555.97 504.50,555.72 505.00,556.02 505.50,556.31 506.00,555.97 506.50,555.79 507.00,556.14 507.50,556.15 508.00,555.73 508.50,555.84 509.00,556.04 509.50,555.87 510.00,555.87 510.50,556.44 511.00,556.69 511.50,556.74 512.00,556.55 512.50,555.89 513.00,556.47 513.50,556.44 514.00,556.16 514.50,556.58 515.00,556.36 515.50,555.85 516.00,555.89 516.50,556.35 517.00,556.54 517.50,556.61 518.00,556.42 518.50,555.94 519.00,555.70 519.50,555.75 520.00,555.90 520.50,555.95 521.00,555.85 521.50,555.69 522.00,555.86 522.50,556.32 523.00,556.32 523.50,555.89 524.00,556.27 524.50,556.79 525.00,556.43 525.50,555.99 526.00,555.57 526.50,555.22 527.00,555.70 527.50,556.51 528.00,557.03 528.50,556.88 529.00,556.24 529.50,556.15 530.00,555.88 530.50,555.72 531.00,555.80 531.50,555.82 532.00,556.54 532.50,557.14 533.00,556.80 533.50,556.31 534.00,555.80 534.50,555.51 535.00,556.38 535.50,556.88 536.00,556.69 536.50,556.50 537.00,556.72 537.50,556.53 538.00,556.02 538.50,556.87 539.00,556.68 539.50,556.03 540.00,556.17 540.50,556.46 541.00,556.49 541.50,555.98 542.00,555.97 542.50,556.28 543.00,556.09 543.50,555.46 544.00,555.71 544.50,556.02 545.00,556.20 545.50,556.20 546.00,555.89 546.50,556.06 547.00,556.34 547.50,556.55 548.00,556.45 548.50,555.67 549.00,555.64 549.50,556.14 550.00,556.12 550.50,556.27 551.00,556.22 551.50,556.38 552.00,556.37 552.50,556.45" fill="none" stroke="#141414" stroke-width="1.5" stroke-linejoin="round" stroke-linecap="butt"/>
<path d="M572.90,555.87 573.40,555.19 573.90,555.23 574.40,556.67 574.90,556.86 575.40,556.05 575.90,556.19 576.40,556.11 576.90,556.11 577.40,556.26 577.90,556.75 578.40,557.05 578.90,556.56 579.40,556.42 579.90,556.52 580.40,556.03 580.90,556.17 581.40,556.29 581.90,556.20 582.40,556.42 582.90,556.45 583.40,556.80 583.90,556.72 584.40,556.19 584.90,555.94 585.40,556.23 585.90,556.20 586.40,555.94 586.90,556.02 587.40,556.03 587.90,556.21 588.40,556.18 588.90,556.07 589.40,555.99 589.90,555.48 590.40,555.91 590.90,556.65 591.40,556.30 591.90,556.25 592.40,556.47 592.90,555.93 593.40,556.17 593.90,555.94 594.40,555.60 594.90,556.35 595.40,556.06 595.90,556.30 596.40,556.45 596.90,556.35 597.40,556.46 597.90,556.31 598.40,556.35 598.90,556.81 599.40,556.94 599.90,556.57 600.40,556.66 600.90,556.43 601.40,556.16 601.90,556.22 602.40,556.57 602.90,556.71 603.40,556.58 603.90,556.30 604.40,556.35 604.90,556.11 605.40,555.91 605.90,555.62 606.40,555.44 606.90,555.96 607.40,555.76 607.90,555.49 608.40,556.14 608.90,556.59 609.40,556.64 609.90,556.82 610.40,556.70 610.90,556.60 611.40,556.51 611.90,556.64 612.40,556.14 612.90,555.74 613.40,556.45 613.90,556.73 614.40,556.46 614.90,556.14 615.40,556.35 615.90,556.40 616.40,555.86 616.90,556.22 617.40,556.43 617.90,556.16 618.40,555.82 618.90,555.06 619.40,555.63 619.90,556.79 620.40,556.04 620.90,555.44 621.40,556.22 621.90,556.42 622.40,556.28 622.90,556.22 623.40,555.94 623.90,556.25 624.40,556.78 624.90,556.58 625.40,555.68 625.90,556.04 626.40,556.66 626.90,556.34 627.40,556.88 627.90,557.10 628.40,556.55 628.90,556.48 629.40,556.67 629.90,556.22 630.40,556.09 630.90,555.76 631.40,555.29 631.90,555.83 632.40,556.66 632.90,556.33 633.40,556.27 633.90,556.59 634.40,556.75 634.90,556.61 635.40,556.93 635.90,557.15 636.40,556.27 636.90,556.22 637.40,555.78 637.90,555.81 638.40,556.22 638.90,556.27 639.40,556.26 639.90,555.38 640.40,554.75 640.90,555.31 641.40,555.68 641.90,556.10 642.40,556.15 642.90,556.03 643.40,556.29 643.90,556.59 644.40,556.66 644.90,556.29 645.40,555.98 645.90,556.03 646.40,556.49 646.90,556.36 647.40,556.37 647.90,556.11 648.40,555.86 648.90,556.26 649.40,556.23 649.90,556.46 650.40,556.72 650.90,556.21 651.40,555.78 651.90,555.94 652.40,556.00 652.90,555.89 653.40,555.78 653.90,556.11 654.40,556.46 654.90,556.33 655.40,556.51 655.90,555.80 656.40,555.58 656.90,556.15 657.40,556.32 657.90,556.53 658.40,556.49 658.90,556.71 659.40,556.05 659.90,555.39 660.40,556.24 660.90,556.94 661.40,556.38 661.90,556.29 662.40,556.75 662.90,556.07 663.40,555.66 663.90,556.13 664.40,556.28 664.90,556.68 665.40,556.87 665.90,556.62 666.40,556.27 666.90,555.68 667.40,555.70 667.90,556.42 668.40,557.10 668.90,556.49 669.40,555.94 669.90,555.48 670.40,555.87 670.90,556.21 671.40,556.10 671.90,556.80 672.40,556.19 672.90,555.60 673.40,556.16 673.90,556.78 674.40,556.43 674.90,555.77 675.40,556.01 675.90,556.65 676.40,556.25 676.90,555.68" fill="none" stroke="#141414" stroke-width="1.5" stroke-linejoin="round" stroke-linecap="butt"/>
<path d="M552.50,556.30 L553.30,554.80 L554.00,557.50 L554.80,554.30 L555.50,557.80 L556.30,555.30 L556.80,549.50 L557.60,561.70 L558.30,552.00 L558.90,560.00 L559.50,551.50 L560.20,564.30 L561.00,548.90 L561.70,562.00 L562.30,553.00 L563.00,559.20 L564.00,553.30 L565.00,559.00 L566.00,553.80 L567.00,558.50 L568.00,554.40 L569.00,558.00 L570.00,554.90 L571.00,557.40 L572.00,555.50 L573.00,556.40" fill="none" stroke="#141414" stroke-width="0.95" stroke-linejoin="round" stroke-linecap="butt"/>
<path d="M576.90,556.2 L577.40,546.6 L577.85,556.2 L578.30,564.5 L578.80,556.2 M594.30,556.2 L594.80,552.5 L595.10,556.2 L595.40,558.4 L595.90,556.2 M530.40,552.44 L530.80,560.20 L531.20,551.12 L531.60,562.11 L532.00,551.34 " fill="none" stroke="#141414" stroke-width="1.25" stroke-linejoin="round" stroke-linecap="butt"/>
<text x="117" y="102.30" font-size="10.9" textLength="208.30" lengthAdjust="spacingAndGlyphs" fill="#202020" stroke="#202020" stroke-width="0.22">Experimental diffraction pattern of ARC 7</text>
<text x="178.25" y="197.30" font-size="10.9" textLength="146.25" lengthAdjust="spacingAndGlyphs" fill="#202020" stroke="#202020" stroke-width="0.22">Simulated diffraction pattern</text>
<text x="278.25" y="279.30" font-size="10.9" textLength="45.50" lengthAdjust="spacingAndGlyphs" fill="#202020" stroke="#202020" stroke-width="0.22">C3S (M3)</text>
<text x="272.75" y="310.80" font-size="10.9" textLength="51.00" lengthAdjust="spacingAndGlyphs" fill="#202020" stroke="#202020" stroke-width="0.22">C2S (beta)</text>
<text x="298.25" y="341.55" font-size="10.9" textLength="25.50" lengthAdjust="spacingAndGlyphs" fill="#202020" stroke="#202020" stroke-width="0.22">C4AF</text>
<text x="267" y="367.80" font-size="10.9" textLength="56.75" lengthAdjust="spacingAndGlyphs" fill="#202020" stroke="#202020" stroke-width="0.22">C3A (cubic)</text>
<text x="223.25" y="390.30" font-size="10.9" textLength="100.50" lengthAdjust="spacingAndGlyphs" fill="#202020" stroke="#202020" stroke-width="0.22">C3A (orthorhombic)</text>
<text x="259.5" y="414.80" font-size="10.9" textLength="64.25" lengthAdjust="spacingAndGlyphs" fill="#202020" stroke="#202020" stroke-width="0.22">Wollastonite</text>
<text x="279.5" y="444.05" font-size="10.9" textLength="44.25" lengthAdjust="spacingAndGlyphs" fill="#202020" stroke="#202020" stroke-width="0.22">Periclase</text>
<text x="288.25" y="471.55" font-size="10.9" textLength="35.50" lengthAdjust="spacingAndGlyphs" fill="#202020" stroke="#202020" stroke-width="0.22">Olivine</text>
<text x="277" y="495.30" font-size="10.9" textLength="46.75" lengthAdjust="spacingAndGlyphs" fill="#202020" stroke="#202020" stroke-width="0.22">Dolomite</text>
<text x="290.1" y="541.90" font-size="10.9" textLength="32.70" lengthAdjust="spacingAndGlyphs" fill="#202020" stroke="#202020" stroke-width="0.22">Zincite</text>
<text x="42.1" y="577.30" font-size="10.9" textLength="280.70" lengthAdjust="spacingAndGlyphs" fill="#202020" stroke="#202020" stroke-width="0.22">Difference between experiment and simulated patterns</text>
<text x="459" y="101.80" font-size="10.9" textLength="213.00" lengthAdjust="spacingAndGlyphs" fill="#202020" stroke="#202020" stroke-width="0.22">Experimental diffraction pattern of WGC 7</text>
<text x="524.75" y="191.05" font-size="10.9" textLength="146.75" lengthAdjust="spacingAndGlyphs" fill="#202020" stroke="#202020" stroke-width="0.22">Simulated diffraction pattern</text>
<text x="625.25" y="258.30" font-size="10.9" textLength="45.00" lengthAdjust="spacingAndGlyphs" fill="#202020" stroke="#202020" stroke-width="0.22">C3S (M3)</text>
<text x="619" y="293.55" font-size="10.9" textLength="51.25" lengthAdjust="spacingAndGlyphs" fill="#202020" stroke="#202020" stroke-width="0.22">C2S (beta)</text>
<text x="644.75" y="324.80" font-size="10.9" textLength="25.50" lengthAdjust="spacingAndGlyphs" fill="#202020" stroke="#202020" stroke-width="0.22">C4AF</text>
<text x="613.5" y="350.55" font-size="10.9" textLength="56.75" lengthAdjust="spacingAndGlyphs" fill="#202020" stroke="#202020" stroke-width="0.22">C3A (cubic)</text>
<text x="569.5" y="373.55" font-size="10.9" textLength="100.75" lengthAdjust="spacingAndGlyphs" fill="#202020" stroke="#202020" stroke-width="0.22">C3A (orthorhombic)</text>
<text x="606" y="397.30" font-size="10.9" textLength="64.25" lengthAdjust="spacingAndGlyphs" fill="#202020" stroke="#202020" stroke-width="0.22">Wollastonite</text>
<text x="625.75" y="427.05" font-size="10.9" textLength="44.50" lengthAdjust="spacingAndGlyphs" fill="#202020" stroke="#202020" stroke-width="0.22">Periclase</text>
<text x="634.75" y="454.80" font-size="10.9" textLength="35.50" lengthAdjust="spacingAndGlyphs" fill="#202020" stroke="#202020" stroke-width="0.22">Olivine</text>
<text x="641" y="478.55" font-size="10.9" textLength="29.25" lengthAdjust="spacingAndGlyphs" fill="#202020" stroke="#202020" stroke-width="0.22">Pyrite</text>
<text x="627.75" y="507.30" font-size="10.9" textLength="42.50" lengthAdjust="spacingAndGlyphs" fill="#202020" stroke="#202020" stroke-width="0.22">Arcanite</text>
<text x="636.8" y="551.30" font-size="10.9" textLength="32.70" lengthAdjust="spacingAndGlyphs" fill="#202020" stroke="#202020" stroke-width="0.22">Zincite</text>
<text x="389" y="577.30" font-size="10.9" textLength="280.50" lengthAdjust="spacingAndGlyphs" fill="#202020" stroke="#202020" stroke-width="0.22">Difference between experiment and simulated patterns</text>
<text x="19.0" y="29.9" font-size="21" textLength="25.8" lengthAdjust="spacingAndGlyphs" fill="#1a1a1a" stroke="#1a1a1a" stroke-width="0.35">(a)</text>
<text x="364.6" y="29.9" font-size="21" textLength="25.8" lengthAdjust="spacingAndGlyphs" fill="#1a1a1a" stroke="#1a1a1a" stroke-width="0.35">(b)</text>
<text x="25.3" y="636.3" font-size="18.6" textLength="66.1" lengthAdjust="spacingAndGlyphs" fill="#1f1f1f">Position</text>
<text x="100.2" y="636.3" font-size="18.6" textLength="85.2" lengthAdjust="spacingAndGlyphs" fill="#1f1f1f">(2°Theta)</text>
<text x="191.3" y="636.3" font-size="18.6" textLength="71.2" lengthAdjust="spacingAndGlyphs" fill="#1f1f1f">(Copper</text>
<text x="268.9" y="636.3" font-size="18.6" textLength="41.4" lengthAdjust="spacingAndGlyphs" fill="#1f1f1f">(Cu))</text>
<text x="372.3" y="636.3" font-size="18.6" textLength="66.1" lengthAdjust="spacingAndGlyphs" fill="#1f1f1f">Position</text>
<text x="447.2" y="636.3" font-size="18.6" textLength="85.2" lengthAdjust="spacingAndGlyphs" fill="#1f1f1f">(2°Theta)</text>
<text x="538.3" y="636.3" font-size="18.6" textLength="71.2" lengthAdjust="spacingAndGlyphs" fill="#1f1f1f">(Copper</text>
<text x="615.9" y="636.3" font-size="18.6" textLength="41.4" lengthAdjust="spacingAndGlyphs" fill="#1f1f1f">(Cu))</text>
</g></svg>
</body></html>
